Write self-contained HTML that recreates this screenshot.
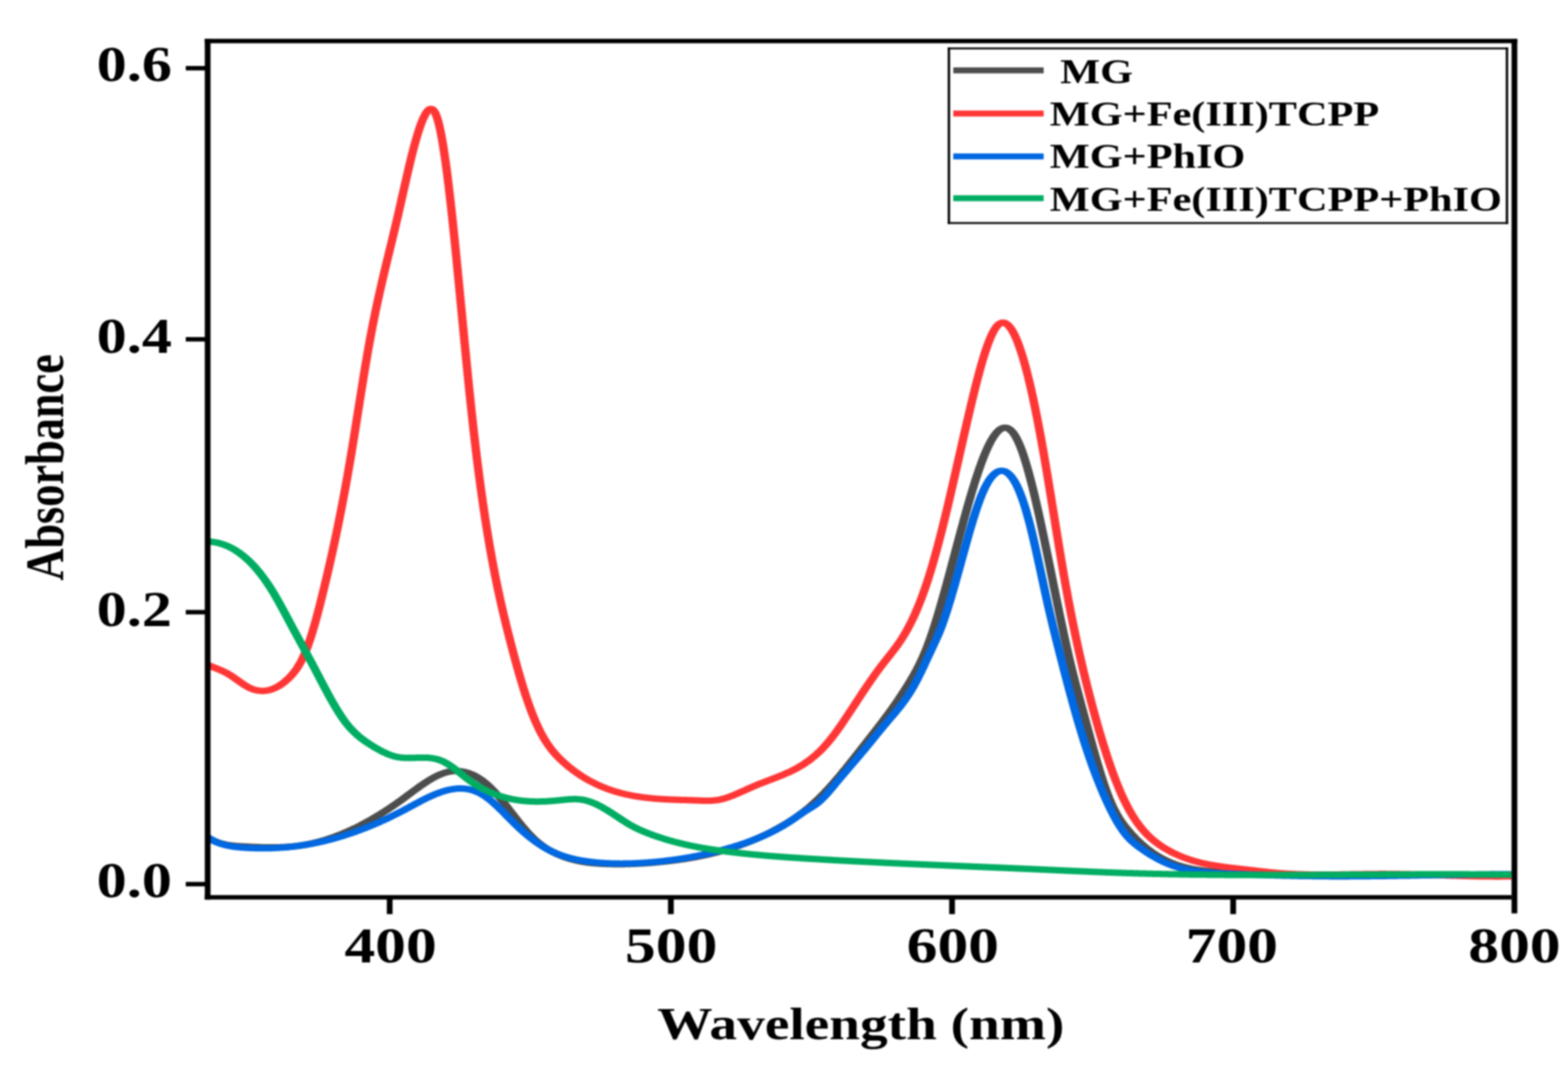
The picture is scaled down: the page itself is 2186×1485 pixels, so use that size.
<!DOCTYPE html>
<html lang="en"><head><meta charset="utf-8"><title>UV-Vis absorbance spectra</title>
<style>
html,body{margin:0;padding:0;background:#fff}
body{width:2186px;height:1485px;overflow:hidden}
svg{display:block;filter:blur(0.8px)}
text{font-family:"Liberation Serif","DejaVu Serif",serif;font-weight:bold;fill:#000}
.c{fill:none;stroke-width:9.0;stroke-linejoin:round;stroke-linecap:butt}
</style></head><body>
<svg width="2186" height="1485" viewBox="0 0 2186 1485">
<rect x="0" y="0" width="2186" height="1485" fill="#fff"/>
<g id="curves" transform="scale(1.3,1)">
<path class="c" stroke="#4d4d4d" d="M222.69,1167.7 L223.46,1168.3 L224.23,1168.9 L225.00,1169.5 L225.77,1170.0 L226.54,1170.6 L227.31,1171.1 L228.08,1171.6 L228.85,1172.1 L229.62,1172.5 L230.38,1173.0 L231.15,1173.4 L231.92,1173.8 L232.69,1174.2 L233.46,1174.5 L234.23,1174.9 L235.00,1175.2 L235.77,1175.6 L236.54,1175.9 L237.31,1176.1 L238.08,1176.4 L238.85,1176.7 L239.62,1176.9 L240.38,1177.2 L241.15,1177.4 L241.92,1177.6 L242.69,1177.8 L243.46,1178.0 L244.23,1178.2 L245.00,1178.4 L245.77,1178.5 L246.54,1178.7 L247.31,1178.8 L248.08,1178.9 L248.85,1179.1 L249.62,1179.2 L250.38,1179.3 L251.15,1179.4 L251.92,1179.5 L252.69,1179.6 L253.46,1179.7 L254.23,1179.7 L255.00,1179.8 L255.77,1179.9 L256.54,1179.9 L257.31,1180.0 L258.08,1180.1 L258.85,1180.1 L259.62,1180.2 L260.38,1180.2 L261.15,1180.3 L261.92,1180.3 L262.69,1180.4 L263.46,1180.4 L264.23,1180.5 L265.00,1180.5 L265.77,1180.6 L266.54,1180.6 L267.31,1180.7 L268.08,1180.7 L268.85,1180.8 L269.62,1180.8 L270.38,1180.9 L271.15,1180.9 L271.92,1181.0 L272.69,1181.0 L273.46,1181.0 L274.23,1181.1 L275.00,1181.1 L275.77,1181.2 L276.54,1181.2 L277.31,1181.2 L278.08,1181.3 L278.85,1181.3 L279.62,1181.3 L280.38,1181.4 L281.15,1181.4 L281.92,1181.4 L282.69,1181.4 L283.46,1181.5 L284.23,1181.5 L285.00,1181.5 L285.77,1181.5 L286.54,1181.5 L287.31,1181.5 L288.08,1181.6 L288.85,1181.6 L289.62,1181.6 L290.38,1181.6 L291.15,1181.6 L291.92,1181.6 L292.69,1181.6 L293.46,1181.6 L294.23,1181.5 L295.00,1181.5 L295.77,1181.5 L296.54,1181.5 L297.31,1181.5 L298.08,1181.5 L298.85,1181.4 L299.62,1181.4 L300.38,1181.4 L301.15,1181.3 L301.92,1181.3 L302.69,1181.3 L303.46,1181.2 L304.23,1181.2 L305.00,1181.1 L305.77,1181.1 L306.54,1181.0 L307.31,1180.9 L308.08,1180.9 L308.85,1180.8 L309.62,1180.7 L310.38,1180.6 L311.15,1180.6 L311.92,1180.5 L312.69,1180.4 L313.46,1180.3 L314.23,1180.2 L315.00,1180.1 L315.77,1180.0 L316.54,1179.9 L317.31,1179.8 L318.08,1179.7 L318.85,1179.5 L319.62,1179.4 L320.38,1179.3 L321.15,1179.1 L321.92,1179.0 L322.69,1178.9 L323.46,1178.7 L324.23,1178.5 L325.00,1178.4 L325.77,1178.2 L326.54,1178.1 L327.31,1177.9 L328.08,1177.7 L328.85,1177.5 L329.62,1177.3 L330.38,1177.1 L331.15,1176.9 L331.92,1176.7 L332.69,1176.5 L333.46,1176.3 L334.23,1176.1 L335.00,1175.9 L335.77,1175.6 L336.54,1175.4 L337.31,1175.2 L338.08,1174.9 L338.85,1174.7 L339.62,1174.4 L340.38,1174.2 L341.15,1173.9 L341.92,1173.7 L342.69,1173.4 L343.46,1173.1 L344.23,1172.8 L345.00,1172.6 L345.77,1172.3 L346.54,1172.0 L347.31,1171.7 L348.08,1171.4 L348.85,1171.1 L349.62,1170.8 L350.38,1170.5 L351.15,1170.1 L351.92,1169.8 L352.69,1169.5 L353.46,1169.2 L354.23,1168.8 L355.00,1168.5 L355.77,1168.1 L356.54,1167.8 L357.31,1167.4 L358.08,1167.1 L358.85,1166.7 L359.62,1166.4 L360.38,1166.0 L361.15,1165.6 L361.92,1165.2 L362.69,1164.8 L363.46,1164.5 L364.23,1164.1 L365.00,1163.7 L365.77,1163.3 L366.54,1162.9 L367.31,1162.5 L368.08,1162.0 L368.85,1161.6 L369.62,1161.2 L370.38,1160.8 L371.15,1160.3 L371.92,1159.9 L372.69,1159.5 L373.46,1159.0 L374.23,1158.6 L375.00,1158.1 L375.77,1157.7 L376.54,1157.2 L377.31,1156.8 L378.08,1156.3 L378.85,1155.8 L379.62,1155.3 L380.38,1154.9 L381.15,1154.4 L381.92,1153.9 L382.69,1153.4 L383.46,1152.9 L384.23,1152.4 L385.00,1151.9 L385.77,1151.4 L386.54,1150.9 L387.31,1150.4 L388.08,1149.8 L388.85,1149.3 L389.62,1148.8 L390.38,1148.3 L391.15,1147.7 L391.92,1147.2 L392.69,1146.6 L393.46,1146.1 L394.23,1145.5 L395.00,1145.0 L395.77,1144.4 L396.54,1143.9 L397.31,1143.3 L398.08,1142.7 L398.85,1142.2 L399.62,1141.6 L400.38,1141.0 L401.15,1140.4 L401.92,1139.8 L402.69,1139.2 L403.46,1138.6 L404.23,1138.0 L405.00,1137.4 L405.77,1136.8 L406.54,1136.2 L407.31,1135.6 L408.08,1135.0 L408.85,1134.4 L409.62,1133.7 L410.38,1133.1 L411.15,1132.5 L411.92,1131.8 L412.69,1131.2 L413.46,1130.6 L414.23,1129.9 L415.00,1129.3 L415.77,1128.6 L416.54,1128.0 L417.31,1127.3 L418.08,1126.6 L418.85,1126.0 L419.62,1125.3 L420.38,1124.6 L421.15,1123.9 L421.92,1123.3 L422.69,1122.6 L423.46,1121.9 L424.23,1121.2 L425.00,1120.5 L425.77,1119.8 L426.54,1119.1 L427.31,1118.4 L428.08,1117.7 L428.85,1117.0 L429.62,1116.3 L430.38,1115.5 L431.15,1114.8 L431.92,1114.1 L432.69,1113.4 L433.46,1112.6 L434.23,1111.9 L435.00,1111.2 L435.77,1110.4 L436.54,1109.7 L437.31,1108.9 L438.08,1108.2 L438.85,1107.4 L439.62,1106.7 L440.38,1106.0 L441.15,1105.2 L441.92,1104.5 L442.69,1103.7 L443.46,1103.0 L444.23,1102.2 L445.00,1101.5 L445.77,1100.8 L446.54,1100.0 L447.31,1099.3 L448.08,1098.6 L448.85,1097.9 L449.62,1097.1 L450.38,1096.4 L451.15,1095.7 L451.92,1095.0 L452.69,1094.3 L453.46,1093.6 L454.23,1093.0 L455.00,1092.3 L455.77,1091.6 L456.54,1091.0 L457.31,1090.3 L458.08,1089.7 L458.85,1089.0 L459.62,1088.4 L460.38,1087.8 L461.15,1087.2 L461.92,1086.6 L462.69,1086.0 L463.46,1085.4 L464.23,1084.9 L465.00,1084.3 L465.77,1083.8 L466.54,1083.3 L467.31,1082.7 L468.08,1082.2 L468.85,1081.8 L469.62,1081.3 L470.38,1080.8 L471.15,1080.4 L471.92,1080.0 L472.69,1079.5 L473.46,1079.2 L474.23,1078.8 L475.00,1078.4 L475.77,1078.1 L476.54,1077.7 L477.31,1077.4 L478.08,1077.1 L478.85,1076.9 L479.62,1076.6 L480.38,1076.4 L481.15,1076.2 L481.92,1076.0 L482.69,1075.8 L483.46,1075.6 L484.23,1075.5 L485.00,1075.4 L485.77,1075.3 L486.54,1075.2 L487.31,1075.1 L488.08,1075.1 L488.85,1075.1 L489.62,1075.1 L490.38,1075.1 L491.15,1075.1 L491.92,1075.2 L492.69,1075.3 L493.46,1075.4 L494.23,1075.5 L495.00,1075.6 L495.77,1075.8 L496.54,1076.0 L497.31,1076.2 L498.08,1076.4 L498.85,1076.6 L499.62,1076.9 L500.38,1077.2 L501.15,1077.5 L501.92,1077.8 L502.69,1078.1 L503.46,1078.5 L504.23,1078.9 L505.00,1079.3 L505.77,1079.7 L506.54,1080.1 L507.31,1080.6 L508.08,1081.1 L508.85,1081.6 L509.62,1082.1 L510.38,1082.6 L511.15,1083.2 L511.92,1083.8 L512.69,1084.4 L513.46,1085.0 L514.23,1085.7 L515.00,1086.3 L515.77,1087.0 L516.54,1087.7 L517.31,1088.5 L518.08,1089.2 L518.85,1090.0 L519.62,1090.8 L520.38,1091.6 L521.15,1092.4 L521.92,1093.3 L522.69,1094.2 L523.46,1095.1 L524.23,1096.0 L525.00,1096.9 L525.77,1097.9 L526.54,1098.9 L527.31,1099.9 L528.08,1100.9 L528.85,1102.0 L529.62,1103.0 L530.38,1104.1 L531.15,1105.2 L531.92,1106.3 L532.69,1107.5 L533.46,1108.6 L534.23,1109.8 L535.00,1110.9 L535.77,1112.1 L536.54,1113.3 L537.31,1114.5 L538.08,1115.8 L538.85,1117.0 L539.62,1118.2 L540.38,1119.5 L541.15,1120.7 L541.92,1122.0 L542.69,1123.3 L543.46,1124.5 L544.23,1125.8 L545.00,1127.1 L545.77,1128.4 L546.54,1129.7 L547.31,1131.0 L548.08,1132.3 L548.85,1133.6 L549.62,1134.9 L550.38,1136.1 L551.15,1137.4 L551.92,1138.7 L552.69,1140.0 L553.46,1141.3 L554.23,1142.5 L555.00,1143.8 L555.77,1145.1 L556.54,1146.3 L557.31,1147.6 L558.08,1148.8 L558.85,1150.0 L559.62,1151.3 L560.38,1152.5 L561.15,1153.7 L561.92,1154.8 L562.69,1156.0 L563.46,1157.2 L564.23,1158.3 L565.00,1159.4 L565.77,1160.5 L566.54,1161.6 L567.31,1162.7 L568.08,1163.7 L568.85,1164.8 L569.62,1165.8 L570.38,1166.8 L571.15,1167.8 L571.92,1168.7 L572.69,1169.7 L573.46,1170.6 L574.23,1171.5 L575.00,1172.4 L575.77,1173.2 L576.54,1174.1 L577.31,1174.9 L578.08,1175.7 L578.85,1176.5 L579.62,1177.2 L580.38,1178.0 L581.15,1178.7 L581.92,1179.5 L582.69,1180.2 L583.46,1180.9 L584.23,1181.5 L585.00,1182.2 L585.77,1182.8 L586.54,1183.5 L587.31,1184.1 L588.08,1184.7 L588.85,1185.3 L589.62,1185.8 L590.38,1186.4 L591.15,1186.9 L591.92,1187.5 L592.69,1188.0 L593.46,1188.5 L594.23,1189.0 L595.00,1189.5 L595.77,1190.0 L596.54,1190.4 L597.31,1190.9 L598.08,1191.3 L598.85,1191.8 L599.62,1192.2 L600.38,1192.6 L601.15,1193.0 L601.92,1193.4 L602.69,1193.8 L603.46,1194.2 L604.23,1194.6 L605.00,1194.9 L605.77,1195.3 L606.54,1195.6 L607.31,1196.0 L608.08,1196.3 L608.85,1196.6 L609.62,1196.9 L610.38,1197.2 L611.15,1197.5 L611.92,1197.8 L612.69,1198.1 L613.46,1198.4 L614.23,1198.6 L615.00,1198.9 L615.77,1199.1 L616.54,1199.4 L617.31,1199.6 L618.08,1199.9 L618.85,1200.1 L619.62,1200.3 L620.38,1200.5 L621.15,1200.7 L621.92,1200.9 L622.69,1201.1 L623.46,1201.3 L624.23,1201.5 L625.00,1201.6 L625.77,1201.8 L626.54,1202.0 L627.31,1202.1 L628.08,1202.3 L628.85,1202.4 L629.62,1202.6 L630.38,1202.7 L631.15,1202.8 L631.92,1202.9 L632.69,1203.1 L633.46,1203.2 L634.23,1203.3 L635.00,1203.4 L635.77,1203.5 L636.54,1203.6 L637.31,1203.7 L638.08,1203.8 L638.85,1203.8 L639.62,1203.9 L640.38,1204.0 L641.15,1204.1 L641.92,1204.1 L642.69,1204.2 L643.46,1204.3 L644.23,1204.3 L645.00,1204.4 L645.77,1204.4 L646.54,1204.5 L647.31,1204.5 L648.08,1204.6 L648.85,1204.6 L649.62,1204.6 L650.38,1204.7 L651.15,1204.7 L651.92,1204.7 L652.69,1204.8 L653.46,1204.8 L654.23,1204.8 L655.00,1204.8 L655.77,1204.8 L656.54,1204.9 L657.31,1204.9 L658.08,1204.9 L658.85,1204.9 L659.62,1204.9 L660.38,1204.9 L661.15,1204.9 L661.92,1204.9 L662.69,1204.9 L663.46,1204.9 L664.23,1204.9 L665.00,1204.9 L665.77,1204.9 L666.54,1204.9 L667.31,1204.9 L668.08,1204.9 L668.85,1204.9 L669.62,1204.9 L670.38,1204.8 L671.15,1204.8 L671.92,1204.8 L672.69,1204.8 L673.46,1204.8 L674.23,1204.7 L675.00,1204.7 L675.77,1204.7 L676.54,1204.6 L677.31,1204.6 L678.08,1204.6 L678.85,1204.5 L679.62,1204.5 L680.38,1204.5 L681.15,1204.4 L681.92,1204.4 L682.69,1204.3 L683.46,1204.3 L684.23,1204.2 L685.00,1204.2 L685.77,1204.1 L686.54,1204.1 L687.31,1204.0 L688.08,1204.0 L688.85,1203.9 L689.62,1203.9 L690.38,1203.8 L691.15,1203.7 L691.92,1203.7 L692.69,1203.6 L693.46,1203.5 L694.23,1203.5 L695.00,1203.4 L695.77,1203.3 L696.54,1203.3 L697.31,1203.2 L698.08,1203.1 L698.85,1203.0 L699.62,1202.9 L700.38,1202.9 L701.15,1202.8 L701.92,1202.7 L702.69,1202.6 L703.46,1202.5 L704.23,1202.4 L705.00,1202.3 L705.77,1202.2 L706.54,1202.1 L707.31,1202.0 L708.08,1201.9 L708.85,1201.8 L709.62,1201.7 L710.38,1201.6 L711.15,1201.5 L711.92,1201.4 L712.69,1201.3 L713.46,1201.2 L714.23,1201.1 L715.00,1201.0 L715.77,1200.9 L716.54,1200.7 L717.31,1200.6 L718.08,1200.5 L718.85,1200.4 L719.62,1200.3 L720.38,1200.1 L721.15,1200.0 L721.92,1199.9 L722.69,1199.8 L723.46,1199.6 L724.23,1199.5 L725.00,1199.4 L725.77,1199.2 L726.54,1199.1 L727.31,1199.0 L728.08,1198.8 L728.85,1198.7 L729.62,1198.5 L730.38,1198.4 L731.15,1198.2 L731.92,1198.1 L732.69,1197.9 L733.46,1197.8 L734.23,1197.6 L735.00,1197.5 L735.77,1197.3 L736.54,1197.2 L737.31,1197.0 L738.08,1196.8 L738.85,1196.7 L739.62,1196.5 L740.38,1196.3 L741.15,1196.1 L741.92,1196.0 L742.69,1195.8 L743.46,1195.6 L744.23,1195.4 L745.00,1195.3 L745.77,1195.1 L746.54,1194.9 L747.31,1194.7 L748.08,1194.5 L748.85,1194.3 L749.62,1194.1 L750.38,1193.9 L751.15,1193.7 L751.92,1193.5 L752.69,1193.3 L753.46,1193.1 L754.23,1192.9 L755.00,1192.7 L755.77,1192.5 L756.54,1192.2 L757.31,1192.0 L758.08,1191.8 L758.85,1191.6 L759.62,1191.3 L760.38,1191.1 L761.15,1190.9 L761.92,1190.6 L762.69,1190.4 L763.46,1190.2 L764.23,1189.9 L765.00,1189.7 L765.77,1189.4 L766.54,1189.2 L767.31,1188.9 L768.08,1188.7 L768.85,1188.4 L769.62,1188.2 L770.38,1187.9 L771.15,1187.6 L771.92,1187.4 L772.69,1187.1 L773.46,1186.8 L774.23,1186.5 L775.00,1186.3 L775.77,1186.0 L776.54,1185.7 L777.31,1185.4 L778.08,1185.1 L778.85,1184.8 L779.62,1184.5 L780.38,1184.2 L781.15,1183.9 L781.92,1183.6 L782.69,1183.3 L783.46,1183.0 L784.23,1182.7 L785.00,1182.4 L785.77,1182.0 L786.54,1181.7 L787.31,1181.4 L788.08,1181.1 L788.85,1180.7 L789.62,1180.4 L790.38,1180.1 L791.15,1179.7 L791.92,1179.4 L792.69,1179.0 L793.46,1178.7 L794.23,1178.3 L795.00,1177.9 L795.77,1177.6 L796.54,1177.2 L797.31,1176.9 L798.08,1176.5 L798.85,1176.1 L799.62,1175.7 L800.38,1175.3 L801.15,1175.0 L801.92,1174.6 L802.69,1174.2 L803.46,1173.8 L804.23,1173.4 L805.00,1173.0 L805.77,1172.6 L806.54,1172.2 L807.31,1171.8 L808.08,1171.3 L808.85,1170.9 L809.62,1170.5 L810.38,1170.1 L811.15,1169.6 L811.92,1169.2 L812.69,1168.8 L813.46,1168.3 L814.23,1167.9 L815.00,1167.4 L815.77,1167.0 L816.54,1166.5 L817.31,1166.1 L818.08,1165.6 L818.85,1165.1 L819.62,1164.7 L820.38,1164.2 L821.15,1163.7 L821.92,1163.2 L822.69,1162.7 L823.46,1162.2 L824.23,1161.7 L825.00,1161.2 L825.77,1160.7 L826.54,1160.2 L827.31,1159.7 L828.08,1159.2 L828.85,1158.7 L829.62,1158.2 L830.38,1157.6 L831.15,1157.1 L831.92,1156.6 L832.69,1156.0 L833.46,1155.5 L834.23,1154.9 L835.00,1154.4 L835.77,1153.8 L836.54,1153.3 L837.31,1152.7 L838.08,1152.1 L838.85,1151.6 L839.62,1151.0 L840.38,1150.4 L841.15,1149.8 L841.92,1149.2 L842.69,1148.6 L843.46,1148.0 L844.23,1147.4 L845.00,1146.8 L845.77,1146.2 L846.54,1145.5 L847.31,1144.9 L848.08,1144.3 L848.85,1143.6 L849.62,1143.0 L850.38,1142.3 L851.15,1141.6 L851.92,1141.0 L852.69,1140.3 L853.46,1139.6 L854.23,1138.9 L855.00,1138.2 L855.77,1137.5 L856.54,1136.8 L857.31,1136.1 L858.08,1135.3 L858.85,1134.6 L859.62,1133.9 L860.38,1133.1 L861.15,1132.4 L861.92,1131.6 L862.69,1130.8 L863.46,1130.0 L864.23,1129.2 L865.00,1128.4 L865.77,1127.6 L866.54,1126.8 L867.31,1126.0 L868.08,1125.1 L868.85,1124.3 L869.62,1123.4 L870.38,1122.6 L871.15,1121.7 L871.92,1120.8 L872.69,1119.9 L873.46,1119.0 L874.23,1118.1 L875.00,1117.2 L875.77,1116.3 L876.54,1115.3 L877.31,1114.4 L878.08,1113.4 L878.85,1112.4 L879.62,1111.5 L880.38,1110.5 L881.15,1109.5 L881.92,1108.4 L882.69,1107.4 L883.46,1106.4 L884.23,1105.4 L885.00,1104.3 L885.77,1103.3 L886.54,1102.2 L887.31,1101.1 L888.08,1100.0 L888.85,1098.9 L889.62,1097.9 L890.38,1096.7 L891.15,1095.6 L891.92,1094.5 L892.69,1093.4 L893.46,1092.3 L894.23,1091.1 L895.00,1090.0 L895.77,1088.8 L896.54,1087.7 L897.31,1086.5 L898.08,1085.3 L898.85,1084.1 L899.62,1083.0 L900.38,1081.8 L901.15,1080.6 L901.92,1079.4 L902.69,1078.2 L903.46,1077.0 L904.23,1075.8 L905.00,1074.5 L905.77,1073.3 L906.54,1072.1 L907.31,1070.9 L908.08,1069.6 L908.85,1068.4 L909.62,1067.2 L910.38,1065.9 L911.15,1064.7 L911.92,1063.4 L912.69,1062.2 L913.46,1060.9 L914.23,1059.7 L915.00,1058.4 L915.77,1057.1 L916.54,1055.9 L917.31,1054.6 L918.08,1053.3 L918.85,1052.1 L919.62,1050.8 L920.38,1049.5 L921.15,1048.2 L921.92,1047.0 L922.69,1045.7 L923.46,1044.4 L924.23,1043.2 L925.00,1041.9 L925.77,1040.6 L926.54,1039.3 L927.31,1038.1 L928.08,1036.8 L928.85,1035.5 L929.62,1034.2 L930.38,1033.0 L931.15,1031.7 L931.92,1030.4 L932.69,1029.1 L933.46,1027.9 L934.23,1026.6 L935.00,1025.3 L935.77,1024.0 L936.54,1022.8 L937.31,1021.5 L938.08,1020.2 L938.85,1018.9 L939.62,1017.6 L940.38,1016.3 L941.15,1015.0 L941.92,1013.7 L942.69,1012.4 L943.46,1011.1 L944.23,1009.8 L945.00,1008.5 L945.77,1007.2 L946.54,1005.9 L947.31,1004.6 L948.08,1003.2 L948.85,1001.9 L949.62,1000.6 L950.38,999.2 L951.15,997.9 L951.92,996.5 L952.69,995.2 L953.46,993.8 L954.23,992.4 L955.00,991.1 L955.77,989.7 L956.54,988.3 L957.31,986.9 L958.08,985.5 L958.85,984.0 L959.62,982.6 L960.38,981.2 L961.15,979.7 L961.92,978.3 L962.69,976.8 L963.46,975.4 L964.23,973.9 L965.00,972.4 L965.77,970.9 L966.54,969.4 L967.31,967.9 L968.08,966.4 L968.85,964.8 L969.62,963.3 L970.38,961.7 L971.15,960.1 L971.92,958.6 L972.69,957.0 L973.46,955.4 L974.23,953.7 L975.00,952.1 L975.77,950.5 L976.54,948.8 L977.31,947.1 L978.08,945.4 L978.85,943.7 L979.62,942.0 L980.38,940.2 L981.15,938.4 L981.92,936.6 L982.69,934.7 L983.46,932.9 L984.23,930.9 L985.00,929.0 L985.77,927.0 L986.54,925.0 L987.31,922.9 L988.08,920.7 L988.85,918.6 L989.62,916.4 L990.38,914.1 L991.15,911.8 L991.92,909.4 L992.69,907.0 L993.46,904.5 L994.23,902.0 L995.00,899.4 L995.77,896.7 L996.54,894.0 L997.31,891.2 L998.08,888.4 L998.85,885.5 L999.62,882.5 L1000.38,879.6 L1001.15,876.5 L1001.92,873.4 L1002.69,870.3 L1003.46,867.1 L1004.23,863.9 L1005.00,860.7 L1005.77,857.4 L1006.54,854.0 L1007.31,850.7 L1008.08,847.3 L1008.85,843.8 L1009.62,840.4 L1010.38,836.9 L1011.15,833.3 L1011.92,829.8 L1012.69,826.2 L1013.46,822.6 L1014.23,819.0 L1015.00,815.4 L1015.77,811.7 L1016.54,808.0 L1017.31,804.3 L1018.08,800.6 L1018.85,796.9 L1019.62,793.2 L1020.38,789.4 L1021.15,785.7 L1021.92,781.9 L1022.69,778.2 L1023.46,774.4 L1024.23,770.7 L1025.00,766.9 L1025.77,763.1 L1026.54,759.4 L1027.31,755.6 L1028.08,751.9 L1028.85,748.1 L1029.62,744.4 L1030.38,740.7 L1031.15,737.0 L1031.92,733.3 L1032.69,729.6 L1033.46,725.9 L1034.23,722.3 L1035.00,718.7 L1035.77,715.1 L1036.54,711.5 L1037.31,708.0 L1038.08,704.4 L1038.85,701.0 L1039.62,697.5 L1040.38,694.1 L1041.15,690.7 L1041.92,687.3 L1042.69,684.0 L1043.46,680.7 L1044.23,677.4 L1045.00,674.2 L1045.77,671.0 L1046.54,667.9 L1047.31,664.8 L1048.08,661.8 L1048.85,658.8 L1049.62,655.9 L1050.38,653.0 L1051.15,650.2 L1051.92,647.4 L1052.69,644.7 L1053.46,642.0 L1054.23,639.4 L1055.00,636.8 L1055.77,634.4 L1056.54,631.9 L1057.31,629.6 L1058.08,627.3 L1058.85,625.1 L1059.62,622.9 L1060.38,620.9 L1061.15,618.9 L1061.92,616.9 L1062.69,615.1 L1063.46,613.3 L1064.23,611.6 L1065.00,610.0 L1065.77,608.5 L1066.54,607.0 L1067.31,605.7 L1068.08,604.4 L1068.85,603.2 L1069.62,602.1 L1070.38,601.1 L1071.15,600.2 L1071.92,599.4 L1072.69,598.7 L1073.46,598.0 L1074.23,597.5 L1075.00,597.1 L1075.77,596.8 L1076.54,596.5 L1077.31,596.4 L1078.08,596.4 L1078.85,596.5 L1079.62,596.7 L1080.38,597.0 L1081.15,597.4 L1081.92,598.0 L1082.69,598.6 L1083.46,599.4 L1084.23,600.3 L1085.00,601.3 L1085.77,602.4 L1086.54,603.6 L1087.31,605.0 L1088.08,606.5 L1088.85,608.1 L1089.62,609.8 L1090.38,611.7 L1091.15,613.7 L1091.92,615.8 L1092.69,618.0 L1093.46,620.3 L1094.23,622.8 L1095.00,625.4 L1095.77,628.1 L1096.54,630.8 L1097.31,633.7 L1098.08,636.7 L1098.85,639.8 L1099.62,643.0 L1100.38,646.3 L1101.15,649.7 L1101.92,653.1 L1102.69,656.7 L1103.46,660.3 L1104.23,664.0 L1105.00,667.8 L1105.77,671.6 L1106.54,675.5 L1107.31,679.5 L1108.08,683.6 L1108.85,687.7 L1109.62,691.9 L1110.38,696.1 L1111.15,700.4 L1111.92,704.7 L1112.69,709.1 L1113.46,713.6 L1114.23,718.1 L1115.00,722.6 L1115.77,727.2 L1116.54,731.8 L1117.31,736.5 L1118.08,741.2 L1118.85,745.9 L1119.62,750.6 L1120.38,755.4 L1121.15,760.2 L1121.92,765.0 L1122.69,769.9 L1123.46,774.8 L1124.23,779.6 L1125.00,784.5 L1125.77,789.4 L1126.54,794.4 L1127.31,799.3 L1128.08,804.2 L1128.85,809.1 L1129.62,814.1 L1130.38,819.0 L1131.15,823.9 L1131.92,828.8 L1132.69,833.7 L1133.46,838.6 L1134.23,843.4 L1135.00,848.3 L1135.77,853.1 L1136.54,857.9 L1137.31,862.7 L1138.08,867.4 L1138.85,872.1 L1139.62,876.8 L1140.38,881.5 L1141.15,886.1 L1141.92,890.6 L1142.69,895.1 L1143.46,899.6 L1144.23,904.0 L1145.00,908.4 L1145.77,912.7 L1146.54,917.0 L1147.31,921.2 L1148.08,925.4 L1148.85,929.5 L1149.62,933.5 L1150.38,937.5 L1151.15,941.5 L1151.92,945.4 L1152.69,949.3 L1153.46,953.1 L1154.23,956.9 L1155.00,960.7 L1155.77,964.5 L1156.54,968.2 L1157.31,972.0 L1158.08,975.7 L1158.85,979.4 L1159.62,983.1 L1160.38,986.8 L1161.15,990.4 L1161.92,994.1 L1162.69,997.8 L1163.46,1001.5 L1164.23,1005.1 L1165.00,1008.8 L1165.77,1012.4 L1166.54,1016.1 L1167.31,1019.7 L1168.08,1023.4 L1168.85,1027.0 L1169.62,1030.6 L1170.38,1034.2 L1171.15,1037.8 L1171.92,1041.4 L1172.69,1044.9 L1173.46,1048.5 L1174.23,1052.0 L1175.00,1055.5 L1175.77,1058.9 L1176.54,1062.4 L1177.31,1065.7 L1178.08,1069.1 L1178.85,1072.4 L1179.62,1075.7 L1180.38,1078.9 L1181.15,1082.1 L1181.92,1085.2 L1182.69,1088.3 L1183.46,1091.4 L1184.23,1094.3 L1185.00,1097.2 L1185.77,1100.1 L1186.54,1102.9 L1187.31,1105.6 L1188.08,1108.3 L1188.85,1110.8 L1189.62,1113.4 L1190.38,1115.8 L1191.15,1118.1 L1191.92,1120.4 L1192.69,1122.6 L1193.46,1124.8 L1194.23,1126.8 L1195.00,1128.8 L1195.77,1130.8 L1196.54,1132.6 L1197.31,1134.4 L1198.08,1136.2 L1198.85,1137.9 L1199.62,1139.6 L1200.38,1141.2 L1201.15,1142.7 L1201.92,1144.2 L1202.69,1145.7 L1203.46,1147.1 L1204.23,1148.5 L1205.00,1149.9 L1205.77,1151.2 L1206.54,1152.5 L1207.31,1153.7 L1208.08,1155.0 L1208.85,1156.2 L1209.62,1157.4 L1210.38,1158.5 L1211.15,1159.7 L1211.92,1160.8 L1212.69,1162.0 L1213.46,1163.1 L1214.23,1164.2 L1215.00,1165.2 L1215.77,1166.3 L1216.54,1167.3 L1217.31,1168.4 L1218.08,1169.4 L1218.85,1170.4 L1219.62,1171.4 L1220.38,1172.3 L1221.15,1173.3 L1221.92,1174.2 L1222.69,1175.1 L1223.46,1176.1 L1224.23,1176.9 L1225.00,1177.8 L1225.77,1178.7 L1226.54,1179.6 L1227.31,1180.4 L1228.08,1181.2 L1228.85,1182.0 L1229.62,1182.8 L1230.38,1183.6 L1231.15,1184.4 L1231.92,1185.2 L1232.69,1185.9 L1233.46,1186.6 L1234.23,1187.4 L1235.00,1188.1 L1235.77,1188.8 L1236.54,1189.5 L1237.31,1190.1 L1238.08,1190.8 L1238.85,1191.4 L1239.62,1192.1 L1240.38,1192.7 L1241.15,1193.3 L1241.92,1193.9 L1242.69,1194.5 L1243.46,1195.1 L1244.23,1195.7 L1245.00,1196.2 L1245.77,1196.8 L1246.54,1197.3 L1247.31,1197.8 L1248.08,1198.3 L1248.85,1198.8 L1249.62,1199.3 L1250.38,1199.8 L1251.15,1200.3 L1251.92,1200.8 L1252.69,1201.2 L1253.46,1201.7 L1254.23,1202.1 L1255.00,1202.5 L1255.77,1202.9 L1256.54,1203.3 L1257.31,1203.7 L1258.08,1204.1 L1258.85,1204.5 L1259.62,1204.9 L1260.38,1205.2 L1261.15,1205.6 L1261.92,1205.9 L1262.69,1206.3 L1263.46,1206.6 L1264.23,1206.9 L1265.00,1207.2 L1265.77,1207.5 L1266.54,1207.8 L1267.31,1208.1 L1268.08,1208.4 L1268.85,1208.7 L1269.62,1209.0 L1270.38,1209.2 L1271.15,1209.5 L1271.92,1209.7 L1272.69,1210.0 L1273.46,1210.2 L1274.23,1210.4 L1275.00,1210.7 L1275.77,1210.9 L1276.54,1211.1 L1277.31,1211.3 L1278.08,1211.5 L1278.85,1211.7 L1279.62,1211.9 L1280.38,1212.0 L1281.15,1212.2 L1281.92,1212.4 L1282.69,1212.5 L1283.46,1212.7 L1284.23,1212.9 L1285.00,1213.0 L1285.77,1213.2 L1286.54,1213.3 L1287.31,1213.4 L1288.08,1213.6 L1288.85,1213.7 L1289.62,1213.8 L1290.38,1213.9 L1291.15,1214.0 L1291.92,1214.2 L1292.69,1214.3 L1293.46,1214.4 L1294.23,1214.5 L1295.00,1214.6 L1295.77,1214.7 L1296.54,1214.8 L1297.31,1214.8 L1298.08,1214.9 L1298.85,1215.0 L1299.62,1215.1 L1300.38,1215.2 L1301.15,1215.3 L1301.92,1215.3 L1302.69,1215.4 L1303.46,1215.5 L1304.23,1215.5 L1305.00,1215.6 L1305.77,1215.7 L1306.54,1215.7 L1307.31,1215.8 L1308.08,1215.9 L1308.85,1215.9 L1309.62,1216.0 L1310.38,1216.0 L1311.15,1216.1 L1311.92,1216.1 L1312.69,1216.2 L1313.46,1216.3 L1314.23,1216.3 L1315.00,1216.4 L1315.77,1216.4 L1316.54,1216.5 L1317.31,1216.5 L1318.08,1216.6 L1318.85,1216.6 L1319.62,1216.7 L1320.38,1216.7 L1321.15,1216.8 L1321.92,1216.8 L1322.69,1216.9 L1323.46,1216.9 L1324.23,1217.0 L1325.00,1217.0 L1325.77,1217.1 L1326.54,1217.1 L1327.31,1217.2 L1328.08,1217.2 L1328.85,1217.3 L1329.62,1217.3 L1330.38,1217.4 L1331.15,1217.4 L1331.92,1217.4 L1332.69,1217.5 L1333.46,1217.5 L1334.23,1217.6 L1335.00,1217.6 L1335.77,1217.7 L1336.54,1217.7 L1337.31,1217.7 L1338.08,1217.8 L1338.85,1217.8 L1339.62,1217.9 L1340.38,1217.9 L1341.15,1218.0 L1341.92,1218.0 L1342.69,1218.0 L1343.46,1218.1 L1344.23,1218.1 L1345.00,1218.1 L1345.77,1218.2 L1346.54,1218.2 L1347.31,1218.3 L1348.08,1218.3 L1348.85,1218.3 L1349.62,1218.4 L1350.38,1218.4 L1351.15,1218.4 L1351.92,1218.5 L1352.69,1218.5 L1353.46,1218.5 L1354.23,1218.6 L1355.00,1218.6 L1355.77,1218.6 L1356.54,1218.7 L1357.31,1218.7 L1358.08,1218.7 L1358.85,1218.7 L1359.62,1218.8 L1360.38,1218.8 L1361.15,1218.8 L1361.92,1218.9 L1362.69,1218.9 L1363.46,1218.9 L1364.23,1219.0 L1365.00,1219.0 L1365.77,1219.0 L1366.54,1219.0 L1367.31,1219.1 L1368.08,1219.1 L1368.85,1219.1 L1369.62,1219.1 L1370.38,1219.2 L1371.15,1219.2 L1371.92,1219.2 L1372.69,1219.2 L1373.46,1219.3 L1374.23,1219.3 L1375.00,1219.3 L1375.77,1219.3 L1376.54,1219.4 L1377.31,1219.4 L1378.08,1219.4 L1378.85,1219.4 L1379.62,1219.4 L1380.38,1219.5 L1381.15,1219.5 L1381.92,1219.5 L1382.69,1219.5 L1383.46,1219.5 L1384.23,1219.6 L1385.00,1219.6 L1385.77,1219.6 L1386.54,1219.6 L1387.31,1219.6 L1388.08,1219.7 L1388.85,1219.7 L1389.62,1219.7 L1390.38,1219.7 L1391.15,1219.7 L1391.92,1219.7 L1392.69,1219.8 L1393.46,1219.8 L1394.23,1219.8 L1395.00,1219.8 L1395.77,1219.8 L1396.54,1219.8 L1397.31,1219.8 L1398.08,1219.9 L1398.85,1219.9 L1399.62,1219.9 L1400.38,1219.9 L1401.15,1219.9 L1401.92,1219.9 L1402.69,1219.9 L1403.46,1220.0 L1404.23,1220.0 L1405.00,1220.0 L1405.77,1220.0 L1406.54,1220.0 L1407.31,1220.0 L1408.08,1220.0 L1408.85,1220.0 L1409.62,1220.0 L1410.38,1220.1 L1411.15,1220.1 L1411.92,1220.1 L1412.69,1220.1 L1413.46,1220.1 L1414.23,1220.1 L1415.00,1220.1 L1415.77,1220.1 L1416.54,1220.1 L1417.31,1220.1 L1418.08,1220.1 L1418.85,1220.1 L1419.62,1220.2 L1420.38,1220.2 L1421.15,1220.2 L1421.92,1220.2 L1422.69,1220.2 L1423.46,1220.2 L1424.23,1220.2 L1425.00,1220.2 L1425.77,1220.2 L1426.54,1220.2 L1427.31,1220.2 L1428.08,1220.2 L1428.85,1220.2 L1429.62,1220.2 L1430.38,1220.2 L1431.15,1220.2 L1431.92,1220.2 L1432.69,1220.2 L1433.46,1220.3 L1434.23,1220.3 L1435.00,1220.3 L1435.77,1220.3 L1436.54,1220.3 L1437.31,1220.3 L1438.08,1220.3 L1438.85,1220.3 L1439.62,1220.3 L1440.38,1220.3 L1441.15,1220.3 L1441.92,1220.3 L1442.69,1220.3 L1443.46,1220.3 L1444.23,1220.3 L1445.00,1220.3 L1445.77,1220.3 L1446.54,1220.3 L1447.31,1220.3 L1448.08,1220.3 L1448.85,1220.3 L1449.62,1220.3 L1450.38,1220.3 L1451.15,1220.3 L1451.92,1220.3 L1452.69,1220.3 L1453.46,1220.3 L1454.23,1220.3 L1455.00,1220.3 L1455.77,1220.3 L1456.54,1220.3 L1457.31,1220.3 L1458.08,1220.3 L1458.85,1220.3 L1459.62,1220.3 L1460.38,1220.3 L1461.15,1220.3 L1461.92,1220.3 L1462.69,1220.3 L1463.46,1220.3 L1464.23,1220.3 L1465.00,1220.3 L1465.77,1220.3 L1466.54,1220.3 L1467.31,1220.3 L1468.08,1220.3 L1468.85,1220.2 L1469.62,1220.2 L1470.38,1220.2 L1471.15,1220.2 L1471.92,1220.2 L1472.69,1220.2 L1473.46,1220.2 L1474.23,1220.2 L1475.00,1220.2 L1475.77,1220.2 L1476.54,1220.2 L1477.31,1220.2 L1478.08,1220.2 L1478.85,1220.2 L1479.62,1220.2 L1480.38,1220.2 L1481.15,1220.2 L1481.92,1220.2 L1482.69,1220.2 L1483.46,1220.2 L1484.23,1220.2 L1485.00,1220.2 L1485.77,1220.2 L1486.54,1220.2 L1487.31,1220.1 L1488.08,1220.1 L1488.85,1220.1 L1489.62,1220.1 L1490.38,1220.1 L1491.15,1220.1 L1491.92,1220.1 L1492.69,1220.1 L1493.46,1220.1 L1494.23,1220.1 L1495.00,1220.1 L1495.77,1220.1 L1496.54,1220.1 L1497.31,1220.1 L1498.08,1220.1 L1498.85,1220.1 L1499.62,1220.1 L1500.38,1220.1 L1501.15,1220.1 L1501.92,1220.0 L1502.69,1220.0 L1503.46,1220.0 L1504.23,1220.0 L1505.00,1220.0 L1505.77,1220.0 L1506.54,1220.0 L1507.31,1220.0 L1508.08,1220.0 L1508.85,1220.0 L1509.62,1220.0 L1510.38,1220.0 L1511.15,1220.0 L1511.92,1220.0 L1512.69,1220.0 L1513.46,1220.0 L1514.23,1220.0 L1515.00,1219.9 L1515.77,1219.9 L1516.54,1219.9 L1517.31,1219.9 L1518.08,1219.9 L1518.85,1219.9 L1519.62,1219.9 L1520.38,1219.9 L1521.15,1219.9 L1521.92,1219.9 L1522.69,1219.9 L1523.46,1219.9 L1524.23,1219.9 L1525.00,1219.9 L1525.77,1219.9 L1526.54,1219.9 L1527.31,1219.9 L1528.08,1219.9 L1528.85,1219.8 L1529.62,1219.8 L1530.38,1219.8 L1531.15,1219.8 L1531.92,1219.8 L1532.69,1219.8 L1533.46,1219.8 L1534.23,1219.8 L1535.00,1219.8 L1535.77,1219.8 L1536.54,1219.8 L1537.31,1219.8 L1538.08,1219.8 L1538.85,1219.8 L1539.62,1219.8 L1540.38,1219.8 L1541.15,1219.8 L1541.92,1219.8 L1542.69,1219.8 L1543.46,1219.8 L1544.23,1219.8 L1545.00,1219.7 L1545.77,1219.7 L1546.54,1219.7 L1547.31,1219.7 L1548.08,1219.7 L1548.85,1219.7 L1549.62,1219.7 L1550.38,1219.7 L1551.15,1219.7 L1551.92,1219.7 L1552.69,1219.7 L1553.46,1219.7 L1554.23,1219.7 L1555.00,1219.7 L1555.77,1219.7 L1556.54,1219.7 L1557.31,1219.7 L1558.08,1219.7 L1558.85,1219.7 L1559.62,1219.7 L1560.38,1219.7 L1561.15,1219.7 L1561.92,1219.7 L1562.69,1219.7 L1563.46,1219.7 L1564.23,1219.7 L1565.00,1219.7 L1565.77,1219.7 L1566.54,1219.7 L1567.31,1219.7 L1568.08,1219.7 L1568.85,1219.7 L1569.62,1219.7 L1570.38,1219.7 L1571.15,1219.7 L1571.92,1219.7 L1572.69,1219.7 L1573.46,1219.7 L1574.23,1219.7 L1575.00,1219.7 L1575.77,1219.7 L1576.54,1219.7 L1577.31,1219.7 L1578.08,1219.7 L1578.85,1219.7 L1579.62,1219.7 L1580.38,1219.7 L1581.15,1219.7 L1581.92,1219.7 L1582.69,1219.7 L1583.46,1219.7 L1584.23,1219.7 L1585.00,1219.7 L1585.77,1219.7 L1586.54,1219.7 L1587.31,1219.7 L1588.08,1219.7 L1588.85,1219.7 L1589.62,1219.7 L1590.38,1219.7 L1591.15,1219.7 L1591.92,1219.7 L1592.69,1219.7 L1593.46,1219.7 L1594.23,1219.7 L1595.00,1219.7 L1595.77,1219.8 L1596.54,1219.8 L1597.31,1219.8 L1598.08,1219.8 L1598.85,1219.8 L1599.62,1219.8 L1600.38,1219.8 L1601.15,1219.8 L1601.92,1219.8 L1602.69,1219.8 L1603.46,1219.8 L1604.23,1219.8 L1605.00,1219.8 L1605.77,1219.8 L1606.54,1219.9 L1607.31,1219.9 L1608.08,1219.9 L1608.85,1219.9 L1609.62,1219.9 L1610.38,1219.9 L1611.15,1219.9 L1611.92,1219.9 L1612.69,1219.9 L1613.46,1219.9 L1614.23,1220.0 L1615.00,1220.0 L1615.77,1220.0 L1616.54,1220.0 L1617.31,1220.0 L1618.08,1220.0 L1618.85,1220.0 L1619.62,1220.0 L1620.38,1220.0 L1620.77,1220.1"/>
<path class="c" stroke="#ff3636" d="M222.69,927.1 L223.46,927.5 L224.23,927.9 L225.00,928.4 L225.77,928.8 L226.54,929.2 L227.31,929.6 L228.08,930.0 L228.85,930.4 L229.62,930.8 L230.38,931.1 L231.15,931.5 L231.92,931.9 L232.69,932.4 L233.46,932.8 L234.23,933.2 L235.00,933.6 L235.77,934.0 L236.54,934.4 L237.31,934.9 L238.08,935.3 L238.85,935.8 L239.62,936.3 L240.38,936.8 L241.15,937.3 L241.92,937.8 L242.69,938.3 L243.46,938.8 L244.23,939.4 L245.00,940.0 L245.77,940.6 L246.54,941.2 L247.31,941.8 L248.08,942.4 L248.85,943.1 L249.62,943.8 L250.38,944.5 L251.15,945.2 L251.92,945.9 L252.69,946.6 L253.46,947.3 L254.23,948.0 L255.00,948.7 L255.77,949.4 L256.54,950.1 L257.31,950.8 L258.08,951.5 L258.85,952.2 L259.62,952.9 L260.38,953.6 L261.15,954.3 L261.92,954.9 L262.69,955.5 L263.46,956.2 L264.23,956.8 L265.00,957.3 L265.77,957.9 L266.54,958.4 L267.31,958.9 L268.08,959.4 L268.85,959.8 L269.62,960.3 L270.38,960.7 L271.15,961.0 L271.92,961.4 L272.69,961.7 L273.46,962.0 L274.23,962.2 L275.00,962.5 L275.77,962.7 L276.54,962.9 L277.31,963.0 L278.08,963.1 L278.85,963.2 L279.62,963.3 L280.38,963.4 L281.15,963.4 L281.92,963.4 L282.69,963.4 L283.46,963.3 L284.23,963.2 L285.00,963.1 L285.77,963.0 L286.54,962.8 L287.31,962.6 L288.08,962.4 L288.85,962.2 L289.62,961.9 L290.38,961.6 L291.15,961.3 L291.92,960.9 L292.69,960.5 L293.46,960.1 L294.23,959.7 L295.00,959.3 L295.77,958.8 L296.54,958.3 L297.31,957.7 L298.08,957.2 L298.85,956.6 L299.62,956.0 L300.38,955.4 L301.15,954.7 L301.92,954.0 L302.69,953.3 L303.46,952.5 L304.23,951.8 L305.00,951.0 L305.77,950.2 L306.54,949.3 L307.31,948.4 L308.08,947.5 L308.85,946.6 L309.62,945.7 L310.38,944.7 L311.15,943.7 L311.92,942.6 L312.69,941.5 L313.46,940.4 L314.23,939.2 L315.00,938.0 L315.77,936.7 L316.54,935.4 L317.31,934.0 L318.08,932.6 L318.85,931.1 L319.62,929.6 L320.38,927.9 L321.15,926.2 L321.92,924.5 L322.69,922.6 L323.46,920.7 L324.23,918.7 L325.00,916.7 L325.77,914.5 L326.54,912.3 L327.31,909.9 L328.08,907.5 L328.85,905.0 L329.62,902.4 L330.38,899.7 L331.15,896.9 L331.92,893.9 L332.69,891.0 L333.46,887.9 L334.23,884.7 L335.00,881.5 L335.77,878.1 L336.54,874.7 L337.31,871.3 L338.08,867.7 L338.85,864.1 L339.62,860.5 L340.38,856.8 L341.15,853.0 L341.92,849.2 L342.69,845.3 L343.46,841.3 L344.23,837.4 L345.00,833.4 L345.77,829.3 L346.54,825.2 L347.31,821.1 L348.08,817.0 L348.85,812.8 L349.62,808.6 L350.38,804.4 L351.15,800.2 L351.92,795.9 L352.69,791.5 L353.46,787.2 L354.23,782.8 L355.00,778.4 L355.77,773.9 L356.54,769.4 L357.31,764.8 L358.08,760.2 L358.85,755.6 L359.62,750.9 L360.38,746.2 L361.15,741.4 L361.92,736.6 L362.69,731.7 L363.46,726.8 L364.23,721.8 L365.00,716.8 L365.77,711.7 L366.54,706.5 L367.31,701.3 L368.08,696.1 L368.85,690.8 L369.62,685.4 L370.38,680.0 L371.15,674.5 L371.92,668.9 L372.69,663.3 L373.46,657.6 L374.23,651.8 L375.00,646.0 L375.77,640.1 L376.54,634.1 L377.31,628.1 L378.08,622.0 L378.85,615.8 L379.62,609.6 L380.38,603.4 L381.15,597.2 L381.92,590.9 L382.69,584.6 L383.46,578.2 L384.23,571.9 L385.00,565.6 L385.77,559.3 L386.54,553.0 L387.31,546.7 L388.08,540.5 L388.85,534.2 L389.62,528.1 L390.38,521.9 L391.15,515.9 L391.92,509.8 L392.69,503.9 L393.46,498.0 L394.23,492.2 L395.00,486.5 L395.77,480.9 L396.54,475.4 L397.31,469.9 L398.08,464.6 L398.85,459.4 L399.62,454.2 L400.38,449.2 L401.15,444.2 L401.92,439.3 L402.69,434.4 L403.46,429.7 L404.23,425.0 L405.00,420.3 L405.77,415.7 L406.54,411.2 L407.31,406.8 L408.08,402.3 L408.85,398.0 L409.62,393.6 L410.38,389.3 L411.15,385.1 L411.92,380.8 L412.69,376.6 L413.46,372.5 L414.23,368.3 L415.00,364.2 L415.77,360.0 L416.54,355.9 L417.31,351.8 L418.08,347.7 L418.85,343.6 L419.62,339.5 L420.38,335.4 L421.15,331.2 L421.92,327.1 L422.69,322.9 L423.46,318.7 L424.23,314.5 L425.00,310.3 L425.77,306.0 L426.54,301.7 L427.31,297.4 L428.08,293.0 L428.85,288.6 L429.62,284.2 L430.38,279.8 L431.15,275.3 L431.92,270.9 L432.69,266.5 L433.46,262.0 L434.23,257.6 L435.00,253.2 L435.77,248.8 L436.54,244.5 L437.31,240.2 L438.08,235.9 L438.85,231.6 L439.62,227.4 L440.38,223.3 L441.15,219.2 L441.92,215.2 L442.69,211.3 L443.46,207.4 L444.23,203.7 L445.00,200.0 L445.77,196.4 L446.54,192.9 L447.31,189.4 L448.08,186.2 L448.85,183.0 L449.62,179.9 L450.38,177.0 L451.15,174.1 L451.92,171.5 L452.69,168.9 L453.46,166.5 L454.23,164.3 L455.00,162.2 L455.77,160.3 L456.54,158.5 L457.31,156.9 L458.08,155.5 L458.85,154.3 L459.62,153.3 L460.38,152.6 L461.15,152.1 L461.92,151.9 L462.69,151.9 L463.46,152.3 L464.23,153.0 L465.00,154.0 L465.77,155.3 L466.54,157.1 L467.31,159.2 L468.08,161.7 L468.85,164.6 L469.62,167.9 L470.38,171.6 L471.15,175.6 L471.92,180.1 L472.69,184.9 L473.46,190.0 L474.23,195.5 L475.00,201.4 L475.77,207.6 L476.54,214.1 L477.31,220.9 L478.08,228.0 L478.85,235.4 L479.62,243.0 L480.38,251.0 L481.15,259.2 L481.92,267.6 L482.69,276.2 L483.46,285.1 L484.23,294.2 L485.00,303.4 L485.77,312.8 L486.54,322.4 L487.31,332.1 L488.08,341.9 L488.85,351.9 L489.62,361.9 L490.38,372.1 L491.15,382.3 L491.92,392.6 L492.69,402.9 L493.46,413.3 L494.23,423.7 L495.00,434.1 L495.77,444.5 L496.54,454.9 L497.31,465.2 L498.08,475.6 L498.85,485.8 L499.62,496.1 L500.38,506.2 L501.15,516.3 L501.92,526.3 L502.69,536.1 L503.46,545.9 L504.23,555.6 L505.00,565.1 L505.77,574.5 L506.54,583.7 L507.31,592.8 L508.08,601.8 L508.85,610.5 L509.62,619.1 L510.38,627.5 L511.15,635.8 L511.92,643.9 L512.69,651.8 L513.46,659.6 L514.23,667.3 L515.00,674.8 L515.77,682.1 L516.54,689.4 L517.31,696.4 L518.08,703.4 L518.85,710.2 L519.62,716.9 L520.38,723.4 L521.15,729.9 L521.92,736.2 L522.69,742.4 L523.46,748.5 L524.23,754.4 L525.00,760.3 L525.77,766.0 L526.54,771.7 L527.31,777.2 L528.08,782.6 L528.85,788.0 L529.62,793.2 L530.38,798.4 L531.15,803.5 L531.92,808.4 L532.69,813.3 L533.46,818.2 L534.23,822.9 L535.00,827.6 L535.77,832.2 L536.54,836.7 L537.31,841.2 L538.08,845.6 L538.85,849.9 L539.62,854.2 L540.38,858.4 L541.15,862.6 L541.92,866.7 L542.69,870.8 L543.46,874.9 L544.23,878.9 L545.00,882.8 L545.77,886.7 L546.54,890.6 L547.31,894.5 L548.08,898.3 L548.85,902.1 L549.62,905.9 L550.38,909.7 L551.15,913.4 L551.92,917.1 L552.69,920.8 L553.46,924.4 L554.23,928.1 L555.00,931.7 L555.77,935.2 L556.54,938.7 L557.31,942.2 L558.08,945.6 L558.85,949.0 L559.62,952.3 L560.38,955.6 L561.15,958.9 L561.92,962.1 L562.69,965.2 L563.46,968.3 L564.23,971.3 L565.00,974.3 L565.77,977.2 L566.54,980.1 L567.31,982.9 L568.08,985.7 L568.85,988.4 L569.62,991.1 L570.38,993.7 L571.15,996.3 L571.92,998.8 L572.69,1001.2 L573.46,1003.6 L574.23,1005.9 L575.00,1008.2 L575.77,1010.4 L576.54,1012.6 L577.31,1014.7 L578.08,1016.8 L578.85,1018.8 L579.62,1020.8 L580.38,1022.7 L581.15,1024.5 L581.92,1026.3 L582.69,1028.1 L583.46,1029.8 L584.23,1031.4 L585.00,1033.1 L585.77,1034.6 L586.54,1036.2 L587.31,1037.7 L588.08,1039.1 L588.85,1040.5 L589.62,1041.9 L590.38,1043.3 L591.15,1044.6 L591.92,1045.9 L592.69,1047.1 L593.46,1048.3 L594.23,1049.5 L595.00,1050.7 L595.77,1051.8 L596.54,1052.9 L597.31,1054.0 L598.08,1055.0 L598.85,1056.0 L599.62,1057.1 L600.38,1058.0 L601.15,1059.0 L601.92,1060.0 L602.69,1060.9 L603.46,1061.8 L604.23,1062.7 L605.00,1063.6 L605.77,1064.5 L606.54,1065.4 L607.31,1066.2 L608.08,1067.1 L608.85,1067.9 L609.62,1068.8 L610.38,1069.6 L611.15,1070.4 L611.92,1071.2 L612.69,1072.0 L613.46,1072.7 L614.23,1073.5 L615.00,1074.3 L615.77,1075.0 L616.54,1075.7 L617.31,1076.5 L618.08,1077.2 L618.85,1077.9 L619.62,1078.6 L620.38,1079.3 L621.15,1079.9 L621.92,1080.6 L622.69,1081.3 L623.46,1081.9 L624.23,1082.6 L625.00,1083.2 L625.77,1083.8 L626.54,1084.4 L627.31,1085.0 L628.08,1085.6 L628.85,1086.2 L629.62,1086.8 L630.38,1087.4 L631.15,1087.9 L631.92,1088.5 L632.69,1089.0 L633.46,1089.6 L634.23,1090.1 L635.00,1090.6 L635.77,1091.1 L636.54,1091.6 L637.31,1092.1 L638.08,1092.6 L638.85,1093.1 L639.62,1093.6 L640.38,1094.0 L641.15,1094.5 L641.92,1094.9 L642.69,1095.4 L643.46,1095.8 L644.23,1096.3 L645.00,1096.7 L645.77,1097.1 L646.54,1097.5 L647.31,1097.9 L648.08,1098.3 L648.85,1098.7 L649.62,1099.1 L650.38,1099.5 L651.15,1099.9 L651.92,1100.2 L652.69,1100.6 L653.46,1100.9 L654.23,1101.3 L655.00,1101.6 L655.77,1102.0 L656.54,1102.3 L657.31,1102.6 L658.08,1102.9 L658.85,1103.3 L659.62,1103.6 L660.38,1103.9 L661.15,1104.2 L661.92,1104.5 L662.69,1104.7 L663.46,1105.0 L664.23,1105.3 L665.00,1105.6 L665.77,1105.8 L666.54,1106.1 L667.31,1106.4 L668.08,1106.6 L668.85,1106.9 L669.62,1107.1 L670.38,1107.3 L671.15,1107.6 L671.92,1107.8 L672.69,1108.0 L673.46,1108.2 L674.23,1108.4 L675.00,1108.6 L675.77,1108.8 L676.54,1109.0 L677.31,1109.2 L678.08,1109.4 L678.85,1109.6 L679.62,1109.8 L680.38,1110.0 L681.15,1110.1 L681.92,1110.3 L682.69,1110.5 L683.46,1110.6 L684.23,1110.8 L685.00,1110.9 L685.77,1111.1 L686.54,1111.2 L687.31,1111.4 L688.08,1111.5 L688.85,1111.7 L689.62,1111.8 L690.38,1111.9 L691.15,1112.0 L691.92,1112.2 L692.69,1112.3 L693.46,1112.4 L694.23,1112.5 L695.00,1112.6 L695.77,1112.7 L696.54,1112.8 L697.31,1112.9 L698.08,1113.0 L698.85,1113.1 L699.62,1113.2 L700.38,1113.3 L701.15,1113.4 L701.92,1113.5 L702.69,1113.6 L703.46,1113.7 L704.23,1113.7 L705.00,1113.8 L705.77,1113.9 L706.54,1114.0 L707.31,1114.0 L708.08,1114.1 L708.85,1114.2 L709.62,1114.2 L710.38,1114.3 L711.15,1114.3 L711.92,1114.4 L712.69,1114.4 L713.46,1114.5 L714.23,1114.6 L715.00,1114.6 L715.77,1114.7 L716.54,1114.7 L717.31,1114.8 L718.08,1114.8 L718.85,1114.8 L719.62,1114.9 L720.38,1114.9 L721.15,1115.0 L721.92,1115.0 L722.69,1115.0 L723.46,1115.1 L724.23,1115.1 L725.00,1115.2 L725.77,1115.2 L726.54,1115.2 L727.31,1115.3 L728.08,1115.3 L728.85,1115.3 L729.62,1115.4 L730.38,1115.4 L731.15,1115.4 L731.92,1115.4 L732.69,1115.5 L733.46,1115.5 L734.23,1115.5 L735.00,1115.6 L735.77,1115.6 L736.54,1115.6 L737.31,1115.7 L738.08,1115.7 L738.85,1115.7 L739.62,1115.8 L740.38,1115.8 L741.15,1115.8 L741.92,1115.8 L742.69,1115.9 L743.46,1115.9 L744.23,1115.9 L745.00,1116.0 L745.77,1116.0 L746.54,1116.1 L747.31,1116.1 L748.08,1116.1 L748.85,1116.2 L749.62,1116.2 L750.38,1116.2 L751.15,1116.3 L751.92,1116.3 L752.69,1116.4 L753.46,1116.4 L754.23,1116.4 L755.00,1116.4 L755.77,1116.5 L756.54,1116.5 L757.31,1116.5 L758.08,1116.5 L758.85,1116.5 L759.62,1116.5 L760.38,1116.5 L761.15,1116.5 L761.92,1116.4 L762.69,1116.4 L763.46,1116.3 L764.23,1116.3 L765.00,1116.2 L765.77,1116.1 L766.54,1116.0 L767.31,1115.9 L768.08,1115.8 L768.85,1115.7 L769.62,1115.5 L770.38,1115.4 L771.15,1115.2 L771.92,1115.0 L772.69,1114.8 L773.46,1114.5 L774.23,1114.3 L775.00,1114.0 L775.77,1113.8 L776.54,1113.5 L777.31,1113.2 L778.08,1112.9 L778.85,1112.6 L779.62,1112.2 L780.38,1111.9 L781.15,1111.5 L781.92,1111.2 L782.69,1110.8 L783.46,1110.4 L784.23,1110.1 L785.00,1109.7 L785.77,1109.3 L786.54,1108.9 L787.31,1108.5 L788.08,1108.0 L788.85,1107.6 L789.62,1107.2 L790.38,1106.8 L791.15,1106.3 L791.92,1105.9 L792.69,1105.5 L793.46,1105.0 L794.23,1104.6 L795.00,1104.1 L795.77,1103.7 L796.54,1103.3 L797.31,1102.8 L798.08,1102.4 L798.85,1101.9 L799.62,1101.5 L800.38,1101.0 L801.15,1100.6 L801.92,1100.1 L802.69,1099.7 L803.46,1099.2 L804.23,1098.8 L805.00,1098.3 L805.77,1097.9 L806.54,1097.4 L807.31,1097.0 L808.08,1096.6 L808.85,1096.1 L809.62,1095.7 L810.38,1095.3 L811.15,1094.9 L811.92,1094.5 L812.69,1094.1 L813.46,1093.6 L814.23,1093.2 L815.00,1092.8 L815.77,1092.4 L816.54,1092.0 L817.31,1091.7 L818.08,1091.3 L818.85,1090.9 L819.62,1090.5 L820.38,1090.1 L821.15,1089.7 L821.92,1089.3 L822.69,1089.0 L823.46,1088.6 L824.23,1088.2 L825.00,1087.8 L825.77,1087.4 L826.54,1087.0 L827.31,1086.7 L828.08,1086.3 L828.85,1085.9 L829.62,1085.5 L830.38,1085.1 L831.15,1084.8 L831.92,1084.4 L832.69,1084.0 L833.46,1083.6 L834.23,1083.2 L835.00,1082.8 L835.77,1082.4 L836.54,1082.0 L837.31,1081.6 L838.08,1081.2 L838.85,1080.8 L839.62,1080.4 L840.38,1079.9 L841.15,1079.5 L841.92,1079.1 L842.69,1078.6 L843.46,1078.2 L844.23,1077.8 L845.00,1077.3 L845.77,1076.9 L846.54,1076.4 L847.31,1075.9 L848.08,1075.4 L848.85,1075.0 L849.62,1074.5 L850.38,1074.0 L851.15,1073.5 L851.92,1073.0 L852.69,1072.4 L853.46,1071.9 L854.23,1071.4 L855.00,1070.8 L855.77,1070.3 L856.54,1069.7 L857.31,1069.1 L858.08,1068.5 L858.85,1067.9 L859.62,1067.3 L860.38,1066.7 L861.15,1066.1 L861.92,1065.4 L862.69,1064.8 L863.46,1064.1 L864.23,1063.4 L865.00,1062.7 L865.77,1062.0 L866.54,1061.3 L867.31,1060.6 L868.08,1059.9 L868.85,1059.1 L869.62,1058.3 L870.38,1057.5 L871.15,1056.7 L871.92,1055.9 L872.69,1055.1 L873.46,1054.3 L874.23,1053.4 L875.00,1052.5 L875.77,1051.6 L876.54,1050.7 L877.31,1049.8 L878.08,1048.9 L878.85,1047.9 L879.62,1047.0 L880.38,1046.0 L881.15,1045.0 L881.92,1043.9 L882.69,1042.9 L883.46,1041.8 L884.23,1040.7 L885.00,1039.6 L885.77,1038.5 L886.54,1037.4 L887.31,1036.2 L888.08,1035.0 L888.85,1033.8 L889.62,1032.6 L890.38,1031.4 L891.15,1030.2 L891.92,1028.9 L892.69,1027.6 L893.46,1026.3 L894.23,1025.0 L895.00,1023.7 L895.77,1022.3 L896.54,1021.0 L897.31,1019.6 L898.08,1018.2 L898.85,1016.8 L899.62,1015.4 L900.38,1014.0 L901.15,1012.6 L901.92,1011.1 L902.69,1009.7 L903.46,1008.2 L904.23,1006.8 L905.00,1005.3 L905.77,1003.8 L906.54,1002.3 L907.31,1000.8 L908.08,999.3 L908.85,997.8 L909.62,996.3 L910.38,994.8 L911.15,993.3 L911.92,991.8 L912.69,990.2 L913.46,988.7 L914.23,987.2 L915.00,985.7 L915.77,984.1 L916.54,982.6 L917.31,981.1 L918.08,979.6 L918.85,978.0 L919.62,976.5 L920.38,975.0 L921.15,973.5 L921.92,972.0 L922.69,970.5 L923.46,968.9 L924.23,967.4 L925.00,965.9 L925.77,964.4 L926.54,962.9 L927.31,961.4 L928.08,959.9 L928.85,958.5 L929.62,957.0 L930.38,955.5 L931.15,954.0 L931.92,952.6 L932.69,951.1 L933.46,949.7 L934.23,948.2 L935.00,946.8 L935.77,945.4 L936.54,943.9 L937.31,942.5 L938.08,941.1 L938.85,939.7 L939.62,938.3 L940.38,937.0 L941.15,935.6 L941.92,934.2 L942.69,932.9 L943.46,931.5 L944.23,930.2 L945.00,928.9 L945.77,927.6 L946.54,926.3 L947.31,925.0 L948.08,923.7 L948.85,922.4 L949.62,921.2 L950.38,919.9 L951.15,918.7 L951.92,917.4 L952.69,916.1 L953.46,914.9 L954.23,913.6 L955.00,912.3 L955.77,911.1 L956.54,909.8 L957.31,908.5 L958.08,907.2 L958.85,905.9 L959.62,904.6 L960.38,903.2 L961.15,901.9 L961.92,900.5 L962.69,899.1 L963.46,897.7 L964.23,896.2 L965.00,894.8 L965.77,893.3 L966.54,891.8 L967.31,890.2 L968.08,888.6 L968.85,887.0 L969.62,885.4 L970.38,883.7 L971.15,882.0 L971.92,880.3 L972.69,878.5 L973.46,876.7 L974.23,874.8 L975.00,872.9 L975.77,871.0 L976.54,869.0 L977.31,867.0 L978.08,865.0 L978.85,862.9 L979.62,860.8 L980.38,858.6 L981.15,856.4 L981.92,854.1 L982.69,851.8 L983.46,849.5 L984.23,847.1 L985.00,844.7 L985.77,842.2 L986.54,839.7 L987.31,837.1 L988.08,834.5 L988.85,831.8 L989.62,829.1 L990.38,826.4 L991.15,823.5 L991.92,820.7 L992.69,817.8 L993.46,814.8 L994.23,811.8 L995.00,808.8 L995.77,805.6 L996.54,802.5 L997.31,799.3 L998.08,796.0 L998.85,792.7 L999.62,789.3 L1000.38,785.9 L1001.15,782.5 L1001.92,779.0 L1002.69,775.4 L1003.46,771.8 L1004.23,768.2 L1005.00,764.5 L1005.77,760.8 L1006.54,757.0 L1007.31,753.2 L1008.08,749.4 L1008.85,745.5 L1009.62,741.6 L1010.38,737.6 L1011.15,733.7 L1011.92,729.6 L1012.69,725.6 L1013.46,721.5 L1014.23,717.4 L1015.00,713.2 L1015.77,709.1 L1016.54,704.9 L1017.31,700.6 L1018.08,696.4 L1018.85,692.1 L1019.62,687.8 L1020.38,683.5 L1021.15,679.1 L1021.92,674.8 L1022.69,670.4 L1023.46,666.1 L1024.23,661.7 L1025.00,657.3 L1025.77,652.9 L1026.54,648.5 L1027.31,644.0 L1028.08,639.6 L1028.85,635.2 L1029.62,630.8 L1030.38,626.4 L1031.15,622.0 L1031.92,617.6 L1032.69,613.2 L1033.46,608.8 L1034.23,604.4 L1035.00,600.0 L1035.77,595.7 L1036.54,591.3 L1037.31,587.0 L1038.08,582.7 L1038.85,578.5 L1039.62,574.2 L1040.38,570.0 L1041.15,565.8 L1041.92,561.6 L1042.69,557.4 L1043.46,553.3 L1044.23,549.2 L1045.00,545.2 L1045.77,541.2 L1046.54,537.2 L1047.31,533.3 L1048.08,529.4 L1048.85,525.6 L1049.62,521.8 L1050.38,518.1 L1051.15,514.4 L1051.92,510.9 L1052.69,507.3 L1053.46,503.9 L1054.23,500.5 L1055.00,497.2 L1055.77,494.0 L1056.54,490.9 L1057.31,487.9 L1058.08,484.9 L1058.85,482.1 L1059.62,479.3 L1060.38,476.7 L1061.15,474.1 L1061.92,471.7 L1062.69,469.4 L1063.46,467.2 L1064.23,465.1 L1065.00,463.1 L1065.77,461.3 L1066.54,459.6 L1067.31,458.0 L1068.08,456.6 L1068.85,455.2 L1069.62,454.1 L1070.38,453.1 L1071.15,452.2 L1071.92,451.4 L1072.69,450.9 L1073.46,450.4 L1074.23,450.1 L1075.00,449.9 L1075.77,449.9 L1076.54,450.0 L1077.31,450.3 L1078.08,450.6 L1078.85,451.2 L1079.62,451.8 L1080.38,452.6 L1081.15,453.5 L1081.92,454.5 L1082.69,455.7 L1083.46,457.0 L1084.23,458.4 L1085.00,459.9 L1085.77,461.5 L1086.54,463.3 L1087.31,465.2 L1088.08,467.2 L1088.85,469.3 L1089.62,471.6 L1090.38,473.9 L1091.15,476.4 L1091.92,479.0 L1092.69,481.7 L1093.46,484.4 L1094.23,487.3 L1095.00,490.4 L1095.77,493.5 L1096.54,496.7 L1097.31,500.0 L1098.08,503.4 L1098.85,506.9 L1099.62,510.5 L1100.38,514.3 L1101.15,518.1 L1101.92,522.0 L1102.69,526.0 L1103.46,530.1 L1104.23,534.2 L1105.00,538.5 L1105.77,542.9 L1106.54,547.3 L1107.31,551.8 L1108.08,556.5 L1108.85,561.2 L1109.62,565.9 L1110.38,570.8 L1111.15,575.7 L1111.92,580.7 L1112.69,585.8 L1113.46,591.0 L1114.23,596.3 L1115.00,601.6 L1115.77,607.0 L1116.54,612.4 L1117.31,617.9 L1118.08,623.5 L1118.85,629.2 L1119.62,634.9 L1120.38,640.7 L1121.15,646.6 L1121.92,652.5 L1122.69,658.4 L1123.46,664.4 L1124.23,670.4 L1125.00,676.5 L1125.77,682.6 L1126.54,688.7 L1127.31,694.9 L1128.08,701.1 L1128.85,707.2 L1129.62,713.4 L1130.38,719.6 L1131.15,725.8 L1131.92,732.0 L1132.69,738.1 L1133.46,744.3 L1134.23,750.4 L1135.00,756.5 L1135.77,762.6 L1136.54,768.6 L1137.31,774.6 L1138.08,780.5 L1138.85,786.4 L1139.62,792.3 L1140.38,798.1 L1141.15,803.8 L1141.92,809.5 L1142.69,815.1 L1143.46,820.6 L1144.23,826.0 L1145.00,831.4 L1145.77,836.8 L1146.54,842.0 L1147.31,847.2 L1148.08,852.4 L1148.85,857.5 L1149.62,862.5 L1150.38,867.4 L1151.15,872.4 L1151.92,877.2 L1152.69,882.0 L1153.46,886.7 L1154.23,891.4 L1155.00,896.1 L1155.77,900.7 L1156.54,905.2 L1157.31,909.7 L1158.08,914.1 L1158.85,918.5 L1159.62,922.8 L1160.38,927.1 L1161.15,931.4 L1161.92,935.6 L1162.69,939.8 L1163.46,943.9 L1164.23,948.0 L1165.00,952.0 L1165.77,956.0 L1166.54,960.0 L1167.31,963.9 L1168.08,967.8 L1168.85,971.7 L1169.62,975.5 L1170.38,979.3 L1171.15,983.1 L1171.92,986.8 L1172.69,990.5 L1173.46,994.2 L1174.23,997.8 L1175.00,1001.4 L1175.77,1005.0 L1176.54,1008.6 L1177.31,1012.1 L1178.08,1015.5 L1178.85,1019.0 L1179.62,1022.4 L1180.38,1025.8 L1181.15,1029.1 L1181.92,1032.4 L1182.69,1035.7 L1183.46,1038.9 L1184.23,1042.1 L1185.00,1045.3 L1185.77,1048.4 L1186.54,1051.5 L1187.31,1054.6 L1188.08,1057.6 L1188.85,1060.6 L1189.62,1063.5 L1190.38,1066.4 L1191.15,1069.3 L1191.92,1072.1 L1192.69,1074.9 L1193.46,1077.7 L1194.23,1080.4 L1195.00,1083.0 L1195.77,1085.7 L1196.54,1088.3 L1197.31,1090.8 L1198.08,1093.3 L1198.85,1095.8 L1199.62,1098.2 L1200.38,1100.6 L1201.15,1103.0 L1201.92,1105.3 L1202.69,1107.6 L1203.46,1109.8 L1204.23,1112.0 L1205.00,1114.1 L1205.77,1116.2 L1206.54,1118.2 L1207.31,1120.3 L1208.08,1122.2 L1208.85,1124.1 L1209.62,1126.0 L1210.38,1127.9 L1211.15,1129.7 L1211.92,1131.5 L1212.69,1133.2 L1213.46,1134.9 L1214.23,1136.5 L1215.00,1138.2 L1215.77,1139.7 L1216.54,1141.3 L1217.31,1142.8 L1218.08,1144.3 L1218.85,1145.7 L1219.62,1147.2 L1220.38,1148.5 L1221.15,1149.9 L1221.92,1151.2 L1222.69,1152.5 L1223.46,1153.8 L1224.23,1155.0 L1225.00,1156.2 L1225.77,1157.4 L1226.54,1158.5 L1227.31,1159.6 L1228.08,1160.7 L1228.85,1161.8 L1229.62,1162.9 L1230.38,1163.9 L1231.15,1164.9 L1231.92,1165.8 L1232.69,1166.8 L1233.46,1167.7 L1234.23,1168.6 L1235.00,1169.5 L1235.77,1170.4 L1236.54,1171.2 L1237.31,1172.1 L1238.08,1172.9 L1238.85,1173.7 L1239.62,1174.4 L1240.38,1175.2 L1241.15,1175.9 L1241.92,1176.6 L1242.69,1177.4 L1243.46,1178.1 L1244.23,1178.7 L1245.00,1179.4 L1245.77,1180.1 L1246.54,1180.7 L1247.31,1181.3 L1248.08,1182.0 L1248.85,1182.6 L1249.62,1183.2 L1250.38,1183.8 L1251.15,1184.3 L1251.92,1184.9 L1252.69,1185.5 L1253.46,1186.0 L1254.23,1186.6 L1255.00,1187.1 L1255.77,1187.7 L1256.54,1188.2 L1257.31,1188.7 L1258.08,1189.2 L1258.85,1189.7 L1259.62,1190.2 L1260.38,1190.6 L1261.15,1191.1 L1261.92,1191.6 L1262.69,1192.0 L1263.46,1192.5 L1264.23,1192.9 L1265.00,1193.3 L1265.77,1193.8 L1266.54,1194.2 L1267.31,1194.6 L1268.08,1195.0 L1268.85,1195.4 L1269.62,1195.8 L1270.38,1196.1 L1271.15,1196.5 L1271.92,1196.9 L1272.69,1197.2 L1273.46,1197.6 L1274.23,1197.9 L1275.00,1198.3 L1275.77,1198.6 L1276.54,1198.9 L1277.31,1199.2 L1278.08,1199.5 L1278.85,1199.9 L1279.62,1200.2 L1280.38,1200.5 L1281.15,1200.7 L1281.92,1201.0 L1282.69,1201.3 L1283.46,1201.6 L1284.23,1201.8 L1285.00,1202.1 L1285.77,1202.4 L1286.54,1202.6 L1287.31,1202.9 L1288.08,1203.1 L1288.85,1203.3 L1289.62,1203.6 L1290.38,1203.8 L1291.15,1204.0 L1291.92,1204.2 L1292.69,1204.5 L1293.46,1204.7 L1294.23,1204.9 L1295.00,1205.1 L1295.77,1205.3 L1296.54,1205.5 L1297.31,1205.7 L1298.08,1205.8 L1298.85,1206.0 L1299.62,1206.2 L1300.38,1206.4 L1301.15,1206.6 L1301.92,1206.7 L1302.69,1206.9 L1303.46,1207.1 L1304.23,1207.2 L1305.00,1207.4 L1305.77,1207.5 L1306.54,1207.7 L1307.31,1207.8 L1308.08,1208.0 L1308.85,1208.1 L1309.62,1208.3 L1310.38,1208.4 L1311.15,1208.6 L1311.92,1208.7 L1312.69,1208.8 L1313.46,1209.0 L1314.23,1209.1 L1315.00,1209.2 L1315.77,1209.3 L1316.54,1209.5 L1317.31,1209.6 L1318.08,1209.7 L1318.85,1209.8 L1319.62,1210.0 L1320.38,1210.1 L1321.15,1210.2 L1321.92,1210.3 L1322.69,1210.4 L1323.46,1210.5 L1324.23,1210.7 L1325.00,1210.8 L1325.77,1210.9 L1326.54,1211.0 L1327.31,1211.1 L1328.08,1211.2 L1328.85,1211.4 L1329.62,1211.5 L1330.38,1211.6 L1331.15,1211.7 L1331.92,1211.8 L1332.69,1211.9 L1333.46,1212.0 L1334.23,1212.2 L1335.00,1212.3 L1335.77,1212.4 L1336.54,1212.5 L1337.31,1212.6 L1338.08,1212.7 L1338.85,1212.9 L1339.62,1213.0 L1340.38,1213.1 L1341.15,1213.2 L1341.92,1213.3 L1342.69,1213.4 L1343.46,1213.6 L1344.23,1213.7 L1345.00,1213.8 L1345.77,1213.9 L1346.54,1214.0 L1347.31,1214.2 L1348.08,1214.3 L1348.85,1214.4 L1349.62,1214.5 L1350.38,1214.6 L1351.15,1214.7 L1351.92,1214.8 L1352.69,1215.0 L1353.46,1215.1 L1354.23,1215.2 L1355.00,1215.3 L1355.77,1215.4 L1356.54,1215.5 L1357.31,1215.6 L1358.08,1215.7 L1358.85,1215.8 L1359.62,1215.9 L1360.38,1216.0 L1361.15,1216.2 L1361.92,1216.3 L1362.69,1216.4 L1363.46,1216.5 L1364.23,1216.5 L1365.00,1216.6 L1365.77,1216.7 L1366.54,1216.8 L1367.31,1216.9 L1368.08,1217.0 L1368.85,1217.1 L1369.62,1217.2 L1370.38,1217.3 L1371.15,1217.4 L1371.92,1217.4 L1372.69,1217.5 L1373.46,1217.6 L1374.23,1217.7 L1375.00,1217.7 L1375.77,1217.8 L1376.54,1217.9 L1377.31,1218.0 L1378.08,1218.0 L1378.85,1218.1 L1379.62,1218.2 L1380.38,1218.2 L1381.15,1218.3 L1381.92,1218.3 L1382.69,1218.4 L1383.46,1218.4 L1384.23,1218.5 L1385.00,1218.5 L1385.77,1218.6 L1386.54,1218.6 L1387.31,1218.7 L1388.08,1218.7 L1388.85,1218.8 L1389.62,1218.8 L1390.38,1218.9 L1391.15,1218.9 L1391.92,1218.9 L1392.69,1219.0 L1393.46,1219.0 L1394.23,1219.1 L1395.00,1219.1 L1395.77,1219.1 L1396.54,1219.1 L1397.31,1219.2 L1398.08,1219.2 L1398.85,1219.2 L1399.62,1219.3 L1400.38,1219.3 L1401.15,1219.3 L1401.92,1219.3 L1402.69,1219.3 L1403.46,1219.4 L1404.23,1219.4 L1405.00,1219.4 L1405.77,1219.4 L1406.54,1219.4 L1407.31,1219.4 L1408.08,1219.5 L1408.85,1219.5 L1409.62,1219.5 L1410.38,1219.5 L1411.15,1219.5 L1411.92,1219.5 L1412.69,1219.5 L1413.46,1219.5 L1414.23,1219.5 L1415.00,1219.5 L1415.77,1219.5 L1416.54,1219.5 L1417.31,1219.5 L1418.08,1219.5 L1418.85,1219.5 L1419.62,1219.5 L1420.38,1219.5 L1421.15,1219.5 L1421.92,1219.5 L1422.69,1219.5 L1423.46,1219.5 L1424.23,1219.5 L1425.00,1219.5 L1425.77,1219.5 L1426.54,1219.5 L1427.31,1219.5 L1428.08,1219.5 L1428.85,1219.5 L1429.62,1219.5 L1430.38,1219.5 L1431.15,1219.4 L1431.92,1219.4 L1432.69,1219.4 L1433.46,1219.4 L1434.23,1219.4 L1435.00,1219.4 L1435.77,1219.4 L1436.54,1219.4 L1437.31,1219.4 L1438.08,1219.3 L1438.85,1219.3 L1439.62,1219.3 L1440.38,1219.3 L1441.15,1219.3 L1441.92,1219.3 L1442.69,1219.3 L1443.46,1219.2 L1444.23,1219.2 L1445.00,1219.2 L1445.77,1219.2 L1446.54,1219.2 L1447.31,1219.2 L1448.08,1219.1 L1448.85,1219.1 L1449.62,1219.1 L1450.38,1219.1 L1451.15,1219.1 L1451.92,1219.1 L1452.69,1219.0 L1453.46,1219.0 L1454.23,1219.0 L1455.00,1219.0 L1455.77,1219.0 L1456.54,1219.0 L1457.31,1219.0 L1458.08,1218.9 L1458.85,1218.9 L1459.62,1218.9 L1460.38,1218.9 L1461.15,1218.9 L1461.92,1218.9 L1462.69,1218.8 L1463.46,1218.8 L1464.23,1218.8 L1465.00,1218.8 L1465.77,1218.8 L1466.54,1218.8 L1467.31,1218.8 L1468.08,1218.8 L1468.85,1218.7 L1469.62,1218.7 L1470.38,1218.7 L1471.15,1218.7 L1471.92,1218.7 L1472.69,1218.7 L1473.46,1218.7 L1474.23,1218.7 L1475.00,1218.7 L1475.77,1218.7 L1476.54,1218.7 L1477.31,1218.7 L1478.08,1218.7 L1478.85,1218.6 L1479.62,1218.6 L1480.38,1218.6 L1481.15,1218.6 L1481.92,1218.6 L1482.69,1218.6 L1483.46,1218.6 L1484.23,1218.6 L1485.00,1218.6 L1485.77,1218.6 L1486.54,1218.6 L1487.31,1218.7 L1488.08,1218.7 L1488.85,1218.7 L1489.62,1218.7 L1490.38,1218.7 L1491.15,1218.7 L1491.92,1218.7 L1492.69,1218.7 L1493.46,1218.7 L1494.23,1218.7 L1495.00,1218.7 L1495.77,1218.7 L1496.54,1218.8 L1497.31,1218.8 L1498.08,1218.8 L1498.85,1218.8 L1499.62,1218.8 L1500.38,1218.8 L1501.15,1218.8 L1501.92,1218.9 L1502.69,1218.9 L1503.46,1218.9 L1504.23,1218.9 L1505.00,1218.9 L1505.77,1219.0 L1506.54,1219.0 L1507.31,1219.0 L1508.08,1219.0 L1508.85,1219.0 L1509.62,1219.1 L1510.38,1219.1 L1511.15,1219.1 L1511.92,1219.1 L1512.69,1219.2 L1513.46,1219.2 L1514.23,1219.2 L1515.00,1219.2 L1515.77,1219.3 L1516.54,1219.3 L1517.31,1219.3 L1518.08,1219.3 L1518.85,1219.4 L1519.62,1219.4 L1520.38,1219.4 L1521.15,1219.4 L1521.92,1219.5 L1522.69,1219.5 L1523.46,1219.5 L1524.23,1219.6 L1525.00,1219.6 L1525.77,1219.6 L1526.54,1219.7 L1527.31,1219.7 L1528.08,1219.7 L1528.85,1219.7 L1529.62,1219.8 L1530.38,1219.8 L1531.15,1219.8 L1531.92,1219.9 L1532.69,1219.9 L1533.46,1219.9 L1534.23,1220.0 L1535.00,1220.0 L1535.77,1220.0 L1536.54,1220.1 L1537.31,1220.1 L1538.08,1220.1 L1538.85,1220.2 L1539.62,1220.2 L1540.38,1220.2 L1541.15,1220.3 L1541.92,1220.3 L1542.69,1220.3 L1543.46,1220.4 L1544.23,1220.4 L1545.00,1220.4 L1545.77,1220.5 L1546.54,1220.5 L1547.31,1220.5 L1548.08,1220.6 L1548.85,1220.6 L1549.62,1220.6 L1550.38,1220.7 L1551.15,1220.7 L1551.92,1220.7 L1552.69,1220.8 L1553.46,1220.8 L1554.23,1220.8 L1555.00,1220.9 L1555.77,1220.9 L1556.54,1220.9 L1557.31,1220.9 L1558.08,1221.0 L1558.85,1221.0 L1559.62,1221.0 L1560.38,1221.1 L1561.15,1221.1 L1561.92,1221.1 L1562.69,1221.2 L1563.46,1221.2 L1564.23,1221.2 L1565.00,1221.3 L1565.77,1221.3 L1566.54,1221.3 L1567.31,1221.3 L1568.08,1221.4 L1568.85,1221.4 L1569.62,1221.4 L1570.38,1221.4 L1571.15,1221.5 L1571.92,1221.5 L1572.69,1221.5 L1573.46,1221.6 L1574.23,1221.6 L1575.00,1221.6 L1575.77,1221.6 L1576.54,1221.7 L1577.31,1221.7 L1578.08,1221.7 L1578.85,1221.7 L1579.62,1221.7 L1580.38,1221.8 L1581.15,1221.8 L1581.92,1221.8 L1582.69,1221.8 L1583.46,1221.9 L1584.23,1221.9 L1585.00,1221.9 L1585.77,1221.9 L1586.54,1221.9 L1587.31,1221.9 L1588.08,1222.0 L1588.85,1222.0 L1589.62,1222.0 L1590.38,1222.0 L1591.15,1222.0 L1591.92,1222.0 L1592.69,1222.0 L1593.46,1222.1 L1594.23,1222.1 L1595.00,1222.1 L1595.77,1222.1 L1596.54,1222.1 L1597.31,1222.1 L1598.08,1222.1 L1598.85,1222.1 L1599.62,1222.1 L1600.38,1222.1 L1601.15,1222.1 L1601.92,1222.1 L1602.69,1222.2 L1603.46,1222.2 L1604.23,1222.2 L1605.00,1222.2 L1605.77,1222.2 L1606.54,1222.2 L1607.31,1222.2 L1608.08,1222.2 L1608.85,1222.2 L1609.62,1222.1 L1610.38,1222.1 L1611.15,1222.1 L1611.92,1222.1 L1612.69,1222.1 L1613.46,1222.1 L1614.23,1222.1 L1615.00,1222.1 L1615.77,1222.1 L1616.54,1222.1 L1617.31,1222.1 L1618.08,1222.0 L1618.85,1222.0 L1619.62,1222.0 L1620.38,1222.0 L1620.77,1222.0"/>
<path class="c" stroke="#0068e1" d="M222.69,1167.7 L223.46,1168.3 L224.23,1169.0 L225.00,1169.6 L225.77,1170.1 L226.54,1170.7 L227.31,1171.2 L228.08,1171.7 L228.85,1172.2 L229.62,1172.7 L230.38,1173.2 L231.15,1173.7 L231.92,1174.1 L232.69,1174.5 L233.46,1174.9 L234.23,1175.3 L235.00,1175.7 L235.77,1176.0 L236.54,1176.4 L237.31,1176.7 L238.08,1177.0 L238.85,1177.3 L239.62,1177.6 L240.38,1177.9 L241.15,1178.2 L241.92,1178.4 L242.69,1178.6 L243.46,1178.9 L244.23,1179.1 L245.00,1179.3 L245.77,1179.5 L246.54,1179.7 L247.31,1179.9 L248.08,1180.0 L248.85,1180.2 L249.62,1180.4 L250.38,1180.5 L251.15,1180.6 L251.92,1180.8 L252.69,1180.9 L253.46,1181.0 L254.23,1181.1 L255.00,1181.2 L255.77,1181.3 L256.54,1181.4 L257.31,1181.5 L258.08,1181.6 L258.85,1181.7 L259.62,1181.8 L260.38,1181.8 L261.15,1181.9 L261.92,1182.0 L262.69,1182.0 L263.46,1182.1 L264.23,1182.2 L265.00,1182.2 L265.77,1182.3 L266.54,1182.3 L267.31,1182.4 L268.08,1182.4 L268.85,1182.5 L269.62,1182.5 L270.38,1182.5 L271.15,1182.6 L271.92,1182.6 L272.69,1182.6 L273.46,1182.7 L274.23,1182.7 L275.00,1182.7 L275.77,1182.7 L276.54,1182.8 L277.31,1182.8 L278.08,1182.8 L278.85,1182.8 L279.62,1182.8 L280.38,1182.8 L281.15,1182.8 L281.92,1182.8 L282.69,1182.8 L283.46,1182.8 L284.23,1182.8 L285.00,1182.8 L285.77,1182.8 L286.54,1182.8 L287.31,1182.8 L288.08,1182.7 L288.85,1182.7 L289.62,1182.7 L290.38,1182.7 L291.15,1182.6 L291.92,1182.6 L292.69,1182.6 L293.46,1182.5 L294.23,1182.5 L295.00,1182.4 L295.77,1182.4 L296.54,1182.3 L297.31,1182.3 L298.08,1182.2 L298.85,1182.2 L299.62,1182.1 L300.38,1182.1 L301.15,1182.0 L301.92,1181.9 L302.69,1181.8 L303.46,1181.8 L304.23,1181.7 L305.00,1181.6 L305.77,1181.5 L306.54,1181.4 L307.31,1181.4 L308.08,1181.3 L308.85,1181.2 L309.62,1181.1 L310.38,1181.0 L311.15,1180.9 L311.92,1180.8 L312.69,1180.7 L313.46,1180.6 L314.23,1180.4 L315.00,1180.3 L315.77,1180.2 L316.54,1180.1 L317.31,1180.0 L318.08,1179.8 L318.85,1179.7 L319.62,1179.6 L320.38,1179.4 L321.15,1179.3 L321.92,1179.1 L322.69,1179.0 L323.46,1178.9 L324.23,1178.7 L325.00,1178.5 L325.77,1178.4 L326.54,1178.2 L327.31,1178.1 L328.08,1177.9 L328.85,1177.7 L329.62,1177.6 L330.38,1177.4 L331.15,1177.2 L331.92,1177.0 L332.69,1176.8 L333.46,1176.7 L334.23,1176.5 L335.00,1176.3 L335.77,1176.1 L336.54,1175.9 L337.31,1175.7 L338.08,1175.5 L338.85,1175.3 L339.62,1175.1 L340.38,1174.9 L341.15,1174.6 L341.92,1174.4 L342.69,1174.2 L343.46,1174.0 L344.23,1173.8 L345.00,1173.5 L345.77,1173.3 L346.54,1173.1 L347.31,1172.8 L348.08,1172.6 L348.85,1172.3 L349.62,1172.1 L350.38,1171.9 L351.15,1171.6 L351.92,1171.3 L352.69,1171.1 L353.46,1170.8 L354.23,1170.6 L355.00,1170.3 L355.77,1170.0 L356.54,1169.8 L357.31,1169.5 L358.08,1169.2 L358.85,1168.9 L359.62,1168.7 L360.38,1168.4 L361.15,1168.1 L361.92,1167.8 L362.69,1167.5 L363.46,1167.2 L364.23,1166.9 L365.00,1166.6 L365.77,1166.3 L366.54,1166.0 L367.31,1165.7 L368.08,1165.4 L368.85,1165.1 L369.62,1164.7 L370.38,1164.4 L371.15,1164.1 L371.92,1163.8 L372.69,1163.4 L373.46,1163.1 L374.23,1162.8 L375.00,1162.4 L375.77,1162.1 L376.54,1161.8 L377.31,1161.4 L378.08,1161.1 L378.85,1160.7 L379.62,1160.4 L380.38,1160.0 L381.15,1159.7 L381.92,1159.3 L382.69,1158.9 L383.46,1158.6 L384.23,1158.2 L385.00,1157.8 L385.77,1157.5 L386.54,1157.1 L387.31,1156.7 L388.08,1156.3 L388.85,1155.9 L389.62,1155.6 L390.38,1155.2 L391.15,1154.8 L391.92,1154.4 L392.69,1154.0 L393.46,1153.6 L394.23,1153.2 L395.00,1152.8 L395.77,1152.4 L396.54,1152.0 L397.31,1151.6 L398.08,1151.1 L398.85,1150.7 L399.62,1150.3 L400.38,1149.9 L401.15,1149.5 L401.92,1149.0 L402.69,1148.6 L403.46,1148.2 L404.23,1147.7 L405.00,1147.3 L405.77,1146.9 L406.54,1146.4 L407.31,1146.0 L408.08,1145.5 L408.85,1145.1 L409.62,1144.6 L410.38,1144.2 L411.15,1143.7 L411.92,1143.3 L412.69,1142.8 L413.46,1142.3 L414.23,1141.9 L415.00,1141.4 L415.77,1140.9 L416.54,1140.4 L417.31,1140.0 L418.08,1139.5 L418.85,1139.0 L419.62,1138.5 L420.38,1138.0 L421.15,1137.5 L421.92,1137.1 L422.69,1136.6 L423.46,1136.1 L424.23,1135.6 L425.00,1135.1 L425.77,1134.6 L426.54,1134.1 L427.31,1133.5 L428.08,1133.0 L428.85,1132.5 L429.62,1132.0 L430.38,1131.5 L431.15,1131.0 L431.92,1130.4 L432.69,1129.9 L433.46,1129.4 L434.23,1128.9 L435.00,1128.3 L435.77,1127.8 L436.54,1127.3 L437.31,1126.7 L438.08,1126.2 L438.85,1125.7 L439.62,1125.1 L440.38,1124.6 L441.15,1124.0 L441.92,1123.5 L442.69,1123.0 L443.46,1122.4 L444.23,1121.9 L445.00,1121.3 L445.77,1120.8 L446.54,1120.3 L447.31,1119.7 L448.08,1119.2 L448.85,1118.7 L449.62,1118.2 L450.38,1117.6 L451.15,1117.1 L451.92,1116.6 L452.69,1116.1 L453.46,1115.6 L454.23,1115.1 L455.00,1114.6 L455.77,1114.1 L456.54,1113.6 L457.31,1113.1 L458.08,1112.6 L458.85,1112.1 L459.62,1111.6 L460.38,1111.2 L461.15,1110.7 L461.92,1110.2 L462.69,1109.8 L463.46,1109.3 L464.23,1108.9 L465.00,1108.5 L465.77,1108.1 L466.54,1107.6 L467.31,1107.2 L468.08,1106.8 L468.85,1106.4 L469.62,1106.0 L470.38,1105.7 L471.15,1105.3 L471.92,1104.9 L472.69,1104.6 L473.46,1104.3 L474.23,1103.9 L475.00,1103.6 L475.77,1103.3 L476.54,1103.0 L477.31,1102.7 L478.08,1102.4 L478.85,1102.2 L479.62,1101.9 L480.38,1101.7 L481.15,1101.4 L481.92,1101.2 L482.69,1101.0 L483.46,1100.8 L484.23,1100.6 L485.00,1100.5 L485.77,1100.3 L486.54,1100.2 L487.31,1100.0 L488.08,1099.9 L488.85,1099.8 L489.62,1099.7 L490.38,1099.6 L491.15,1099.6 L491.92,1099.5 L492.69,1099.5 L493.46,1099.5 L494.23,1099.5 L495.00,1099.5 L495.77,1099.5 L496.54,1099.6 L497.31,1099.7 L498.08,1099.7 L498.85,1099.8 L499.62,1100.0 L500.38,1100.1 L501.15,1100.3 L501.92,1100.4 L502.69,1100.6 L503.46,1100.8 L504.23,1101.0 L505.00,1101.3 L505.77,1101.6 L506.54,1101.8 L507.31,1102.1 L508.08,1102.5 L508.85,1102.8 L509.62,1103.2 L510.38,1103.6 L511.15,1104.0 L511.92,1104.4 L512.69,1104.8 L513.46,1105.3 L514.23,1105.8 L515.00,1106.3 L515.77,1106.8 L516.54,1107.4 L517.31,1108.0 L518.08,1108.6 L518.85,1109.2 L519.62,1109.8 L520.38,1110.5 L521.15,1111.2 L521.92,1111.9 L522.69,1112.6 L523.46,1113.4 L524.23,1114.1 L525.00,1114.9 L525.77,1115.7 L526.54,1116.5 L527.31,1117.4 L528.08,1118.2 L528.85,1119.1 L529.62,1120.0 L530.38,1120.9 L531.15,1121.8 L531.92,1122.7 L532.69,1123.6 L533.46,1124.5 L534.23,1125.5 L535.00,1126.4 L535.77,1127.4 L536.54,1128.4 L537.31,1129.4 L538.08,1130.3 L538.85,1131.3 L539.62,1132.3 L540.38,1133.3 L541.15,1134.3 L541.92,1135.4 L542.69,1136.4 L543.46,1137.4 L544.23,1138.4 L545.00,1139.4 L545.77,1140.4 L546.54,1141.4 L547.31,1142.4 L548.08,1143.5 L548.85,1144.5 L549.62,1145.5 L550.38,1146.5 L551.15,1147.5 L551.92,1148.4 L552.69,1149.4 L553.46,1150.4 L554.23,1151.4 L555.00,1152.3 L555.77,1153.3 L556.54,1154.2 L557.31,1155.2 L558.08,1156.1 L558.85,1157.0 L559.62,1157.9 L560.38,1158.8 L561.15,1159.7 L561.92,1160.6 L562.69,1161.4 L563.46,1162.3 L564.23,1163.2 L565.00,1164.0 L565.77,1164.8 L566.54,1165.7 L567.31,1166.5 L568.08,1167.3 L568.85,1168.1 L569.62,1168.9 L570.38,1169.7 L571.15,1170.4 L571.92,1171.2 L572.69,1171.9 L573.46,1172.7 L574.23,1173.4 L575.00,1174.1 L575.77,1174.8 L576.54,1175.5 L577.31,1176.2 L578.08,1176.9 L578.85,1177.6 L579.62,1178.2 L580.38,1178.9 L581.15,1179.5 L581.92,1180.1 L582.69,1180.8 L583.46,1181.4 L584.23,1181.9 L585.00,1182.5 L585.77,1183.1 L586.54,1183.7 L587.31,1184.2 L588.08,1184.7 L588.85,1185.3 L589.62,1185.8 L590.38,1186.3 L591.15,1186.8 L591.92,1187.2 L592.69,1187.7 L593.46,1188.2 L594.23,1188.6 L595.00,1189.1 L595.77,1189.5 L596.54,1189.9 L597.31,1190.4 L598.08,1190.8 L598.85,1191.2 L599.62,1191.5 L600.38,1191.9 L601.15,1192.3 L601.92,1192.7 L602.69,1193.0 L603.46,1193.4 L604.23,1193.7 L605.00,1194.0 L605.77,1194.3 L606.54,1194.6 L607.31,1195.0 L608.08,1195.3 L608.85,1195.5 L609.62,1195.8 L610.38,1196.1 L611.15,1196.4 L611.92,1196.6 L612.69,1196.9 L613.46,1197.1 L614.23,1197.4 L615.00,1197.6 L615.77,1197.8 L616.54,1198.1 L617.31,1198.3 L618.08,1198.5 L618.85,1198.7 L619.62,1198.9 L620.38,1199.1 L621.15,1199.3 L621.92,1199.5 L622.69,1199.7 L623.46,1199.8 L624.23,1200.0 L625.00,1200.2 L625.77,1200.3 L626.54,1200.5 L627.31,1200.6 L628.08,1200.8 L628.85,1200.9 L629.62,1201.1 L630.38,1201.2 L631.15,1201.3 L631.92,1201.5 L632.69,1201.6 L633.46,1201.7 L634.23,1201.8 L635.00,1202.0 L635.77,1202.1 L636.54,1202.2 L637.31,1202.3 L638.08,1202.4 L638.85,1202.5 L639.62,1202.6 L640.38,1202.7 L641.15,1202.8 L641.92,1202.9 L642.69,1202.9 L643.46,1203.0 L644.23,1203.1 L645.00,1203.2 L645.77,1203.3 L646.54,1203.3 L647.31,1203.4 L648.08,1203.5 L648.85,1203.5 L649.62,1203.6 L650.38,1203.6 L651.15,1203.7 L651.92,1203.7 L652.69,1203.8 L653.46,1203.8 L654.23,1203.9 L655.00,1203.9 L655.77,1203.9 L656.54,1204.0 L657.31,1204.0 L658.08,1204.0 L658.85,1204.0 L659.62,1204.1 L660.38,1204.1 L661.15,1204.1 L661.92,1204.1 L662.69,1204.1 L663.46,1204.1 L664.23,1204.1 L665.00,1204.2 L665.77,1204.2 L666.54,1204.2 L667.31,1204.2 L668.08,1204.1 L668.85,1204.1 L669.62,1204.1 L670.38,1204.1 L671.15,1204.1 L671.92,1204.1 L672.69,1204.1 L673.46,1204.0 L674.23,1204.0 L675.00,1204.0 L675.77,1204.0 L676.54,1203.9 L677.31,1203.9 L678.08,1203.9 L678.85,1203.8 L679.62,1203.8 L680.38,1203.8 L681.15,1203.7 L681.92,1203.7 L682.69,1203.6 L683.46,1203.6 L684.23,1203.5 L685.00,1203.5 L685.77,1203.4 L686.54,1203.4 L687.31,1203.3 L688.08,1203.3 L688.85,1203.2 L689.62,1203.1 L690.38,1203.1 L691.15,1203.0 L691.92,1202.9 L692.69,1202.9 L693.46,1202.8 L694.23,1202.7 L695.00,1202.6 L695.77,1202.6 L696.54,1202.5 L697.31,1202.4 L698.08,1202.3 L698.85,1202.2 L699.62,1202.2 L700.38,1202.1 L701.15,1202.0 L701.92,1201.9 L702.69,1201.8 L703.46,1201.7 L704.23,1201.6 L705.00,1201.5 L705.77,1201.4 L706.54,1201.3 L707.31,1201.2 L708.08,1201.1 L708.85,1201.0 L709.62,1200.9 L710.38,1200.8 L711.15,1200.7 L711.92,1200.6 L712.69,1200.5 L713.46,1200.3 L714.23,1200.2 L715.00,1200.1 L715.77,1200.0 L716.54,1199.9 L717.31,1199.7 L718.08,1199.6 L718.85,1199.5 L719.62,1199.4 L720.38,1199.2 L721.15,1199.1 L721.92,1199.0 L722.69,1198.8 L723.46,1198.7 L724.23,1198.5 L725.00,1198.4 L725.77,1198.3 L726.54,1198.1 L727.31,1198.0 L728.08,1197.8 L728.85,1197.7 L729.62,1197.5 L730.38,1197.4 L731.15,1197.2 L731.92,1197.0 L732.69,1196.9 L733.46,1196.7 L734.23,1196.6 L735.00,1196.4 L735.77,1196.2 L736.54,1196.1 L737.31,1195.9 L738.08,1195.7 L738.85,1195.5 L739.62,1195.4 L740.38,1195.2 L741.15,1195.0 L741.92,1194.8 L742.69,1194.6 L743.46,1194.4 L744.23,1194.3 L745.00,1194.1 L745.77,1193.9 L746.54,1193.7 L747.31,1193.5 L748.08,1193.3 L748.85,1193.1 L749.62,1192.9 L750.38,1192.7 L751.15,1192.5 L751.92,1192.3 L752.69,1192.0 L753.46,1191.8 L754.23,1191.6 L755.00,1191.4 L755.77,1191.2 L756.54,1191.0 L757.31,1190.7 L758.08,1190.5 L758.85,1190.3 L759.62,1190.1 L760.38,1189.8 L761.15,1189.6 L761.92,1189.4 L762.69,1189.1 L763.46,1188.9 L764.23,1188.6 L765.00,1188.4 L765.77,1188.2 L766.54,1187.9 L767.31,1187.7 L768.08,1187.4 L768.85,1187.2 L769.62,1186.9 L770.38,1186.7 L771.15,1186.4 L771.92,1186.1 L772.69,1185.9 L773.46,1185.6 L774.23,1185.3 L775.00,1185.1 L775.77,1184.8 L776.54,1184.5 L777.31,1184.2 L778.08,1184.0 L778.85,1183.7 L779.62,1183.4 L780.38,1183.1 L781.15,1182.8 L781.92,1182.5 L782.69,1182.2 L783.46,1182.0 L784.23,1181.7 L785.00,1181.4 L785.77,1181.1 L786.54,1180.8 L787.31,1180.5 L788.08,1180.2 L788.85,1179.8 L789.62,1179.5 L790.38,1179.2 L791.15,1178.9 L791.92,1178.6 L792.69,1178.3 L793.46,1177.9 L794.23,1177.6 L795.00,1177.3 L795.77,1177.0 L796.54,1176.6 L797.31,1176.3 L798.08,1175.9 L798.85,1175.6 L799.62,1175.3 L800.38,1174.9 L801.15,1174.6 L801.92,1174.2 L802.69,1173.8 L803.46,1173.5 L804.23,1173.1 L805.00,1172.7 L805.77,1172.4 L806.54,1172.0 L807.31,1171.6 L808.08,1171.2 L808.85,1170.8 L809.62,1170.4 L810.38,1170.1 L811.15,1169.7 L811.92,1169.2 L812.69,1168.8 L813.46,1168.4 L814.23,1168.0 L815.00,1167.6 L815.77,1167.2 L816.54,1166.7 L817.31,1166.3 L818.08,1165.9 L818.85,1165.4 L819.62,1165.0 L820.38,1164.5 L821.15,1164.1 L821.92,1163.6 L822.69,1163.1 L823.46,1162.7 L824.23,1162.2 L825.00,1161.7 L825.77,1161.2 L826.54,1160.7 L827.31,1160.2 L828.08,1159.7 L828.85,1159.2 L829.62,1158.7 L830.38,1158.2 L831.15,1157.7 L831.92,1157.2 L832.69,1156.6 L833.46,1156.1 L834.23,1155.5 L835.00,1155.0 L835.77,1154.4 L836.54,1153.9 L837.31,1153.3 L838.08,1152.7 L838.85,1152.2 L839.62,1151.6 L840.38,1151.0 L841.15,1150.4 L841.92,1149.8 L842.69,1149.2 L843.46,1148.5 L844.23,1147.9 L845.00,1147.3 L845.77,1146.6 L846.54,1146.0 L847.31,1145.4 L848.08,1144.7 L848.85,1144.0 L849.62,1143.4 L850.38,1142.7 L851.15,1142.0 L851.92,1141.3 L852.69,1140.6 L853.46,1139.9 L854.23,1139.2 L855.00,1138.5 L855.77,1137.8 L856.54,1137.1 L857.31,1136.4 L858.08,1135.7 L858.85,1135.1 L859.62,1134.4 L860.38,1133.7 L861.15,1133.0 L861.92,1132.3 L862.69,1131.7 L863.46,1131.0 L864.23,1130.4 L865.00,1129.8 L865.77,1129.1 L866.54,1128.5 L867.31,1127.9 L868.08,1127.3 L868.85,1126.7 L869.62,1126.1 L870.38,1125.5 L871.15,1124.8 L871.92,1124.2 L872.69,1123.5 L873.46,1122.9 L874.23,1122.2 L875.00,1121.5 L875.77,1120.7 L876.54,1119.9 L877.31,1119.1 L878.08,1118.3 L878.85,1117.4 L879.62,1116.5 L880.38,1115.6 L881.15,1114.6 L881.92,1113.6 L882.69,1112.6 L883.46,1111.6 L884.23,1110.5 L885.00,1109.4 L885.77,1108.3 L886.54,1107.2 L887.31,1106.1 L888.08,1105.0 L888.85,1103.8 L889.62,1102.6 L890.38,1101.4 L891.15,1100.3 L891.92,1099.1 L892.69,1097.9 L893.46,1096.7 L894.23,1095.5 L895.00,1094.3 L895.77,1093.0 L896.54,1091.8 L897.31,1090.6 L898.08,1089.4 L898.85,1088.3 L899.62,1087.1 L900.38,1085.9 L901.15,1084.7 L901.92,1083.5 L902.69,1082.3 L903.46,1081.1 L904.23,1080.0 L905.00,1078.8 L905.77,1077.6 L906.54,1076.4 L907.31,1075.3 L908.08,1074.1 L908.85,1072.9 L909.62,1071.7 L910.38,1070.6 L911.15,1069.4 L911.92,1068.2 L912.69,1067.1 L913.46,1065.9 L914.23,1064.7 L915.00,1063.6 L915.77,1062.4 L916.54,1061.2 L917.31,1060.0 L918.08,1058.9 L918.85,1057.7 L919.62,1056.5 L920.38,1055.3 L921.15,1054.2 L921.92,1053.0 L922.69,1051.8 L923.46,1050.6 L924.23,1049.4 L925.00,1048.2 L925.77,1047.0 L926.54,1045.9 L927.31,1044.7 L928.08,1043.5 L928.85,1042.3 L929.62,1041.0 L930.38,1039.8 L931.15,1038.6 L931.92,1037.4 L932.69,1036.2 L933.46,1035.0 L934.23,1033.7 L935.00,1032.5 L935.77,1031.3 L936.54,1030.0 L937.31,1028.8 L938.08,1027.5 L938.85,1026.3 L939.62,1025.1 L940.38,1023.8 L941.15,1022.6 L941.92,1021.4 L942.69,1020.1 L943.46,1018.9 L944.23,1017.7 L945.00,1016.5 L945.77,1015.2 L946.54,1014.0 L947.31,1012.8 L948.08,1011.6 L948.85,1010.4 L949.62,1009.3 L950.38,1008.1 L951.15,1006.9 L951.92,1005.7 L952.69,1004.6 L953.46,1003.4 L954.23,1002.2 L955.00,1001.1 L955.77,999.9 L956.54,998.7 L957.31,997.6 L958.08,996.4 L958.85,995.2 L959.62,994.0 L960.38,992.8 L961.15,991.6 L961.92,990.4 L962.69,989.2 L963.46,987.9 L964.23,986.7 L965.00,985.4 L965.77,984.1 L966.54,982.8 L967.31,981.5 L968.08,980.2 L968.85,978.8 L969.62,977.5 L970.38,976.1 L971.15,974.6 L971.92,973.2 L972.69,971.7 L973.46,970.2 L974.23,968.7 L975.00,967.2 L975.77,965.6 L976.54,964.0 L977.31,962.3 L978.08,960.7 L978.85,959.0 L979.62,957.2 L980.38,955.4 L981.15,953.6 L981.92,951.8 L982.69,949.9 L983.46,948.0 L984.23,946.0 L985.00,944.0 L985.77,942.0 L986.54,940.0 L987.31,938.0 L988.08,935.9 L988.85,933.8 L989.62,931.7 L990.38,929.6 L991.15,927.4 L991.92,925.3 L992.69,923.1 L993.46,921.0 L994.23,918.8 L995.00,916.7 L995.77,914.5 L996.54,912.3 L997.31,910.2 L998.08,908.0 L998.85,905.9 L999.62,903.7 L1000.38,901.6 L1001.15,899.5 L1001.92,897.3 L1002.69,895.2 L1003.46,893.0 L1004.23,890.8 L1005.00,888.6 L1005.77,886.3 L1006.54,884.0 L1007.31,881.6 L1008.08,879.1 L1008.85,876.6 L1009.62,873.9 L1010.38,871.2 L1011.15,868.5 L1011.92,865.6 L1012.69,862.8 L1013.46,859.8 L1014.23,856.8 L1015.00,853.7 L1015.77,850.6 L1016.54,847.5 L1017.31,844.3 L1018.08,841.0 L1018.85,837.7 L1019.62,834.4 L1020.38,831.0 L1021.15,827.6 L1021.92,824.1 L1022.69,820.7 L1023.46,817.2 L1024.23,813.7 L1025.00,810.1 L1025.77,806.6 L1026.54,803.0 L1027.31,799.4 L1028.08,795.8 L1028.85,792.2 L1029.62,788.5 L1030.38,784.9 L1031.15,781.3 L1031.92,777.6 L1032.69,774.0 L1033.46,770.4 L1034.23,766.8 L1035.00,763.2 L1035.77,759.6 L1036.54,756.0 L1037.31,752.5 L1038.08,748.9 L1038.85,745.4 L1039.62,741.9 L1040.38,738.5 L1041.15,735.1 L1041.92,731.7 L1042.69,728.4 L1043.46,725.1 L1044.23,721.9 L1045.00,718.7 L1045.77,715.6 L1046.54,712.5 L1047.31,709.5 L1048.08,706.5 L1048.85,703.7 L1049.62,700.9 L1050.38,698.1 L1051.15,695.5 L1051.92,692.9 L1052.69,690.4 L1053.46,688.0 L1054.23,685.7 L1055.00,683.5 L1055.77,681.4 L1056.54,679.3 L1057.31,677.4 L1058.08,675.5 L1058.85,673.7 L1059.62,672.0 L1060.38,670.4 L1061.15,668.9 L1061.92,667.5 L1062.69,666.2 L1063.46,664.9 L1064.23,663.8 L1065.00,662.7 L1065.77,661.7 L1066.54,660.8 L1067.31,660.0 L1068.08,659.2 L1068.85,658.6 L1069.62,658.0 L1070.38,657.5 L1071.15,657.2 L1071.92,656.8 L1072.69,656.6 L1073.46,656.5 L1074.23,656.5 L1075.00,656.5 L1075.77,656.7 L1076.54,656.9 L1077.31,657.2 L1078.08,657.6 L1078.85,658.1 L1079.62,658.7 L1080.38,659.4 L1081.15,660.2 L1081.92,661.0 L1082.69,662.0 L1083.46,663.0 L1084.23,664.2 L1085.00,665.4 L1085.77,666.7 L1086.54,668.2 L1087.31,669.7 L1088.08,671.4 L1088.85,673.1 L1089.62,675.0 L1090.38,676.9 L1091.15,679.0 L1091.92,681.2 L1092.69,683.5 L1093.46,685.9 L1094.23,688.4 L1095.00,691.0 L1095.77,693.7 L1096.54,696.5 L1097.31,699.4 L1098.08,702.5 L1098.85,705.6 L1099.62,708.8 L1100.38,712.1 L1101.15,715.6 L1101.92,719.1 L1102.69,722.7 L1103.46,726.4 L1104.23,730.2 L1105.00,734.2 L1105.77,738.2 L1106.54,742.2 L1107.31,746.4 L1108.08,750.6 L1108.85,754.9 L1109.62,759.2 L1110.38,763.6 L1111.15,768.1 L1111.92,772.5 L1112.69,777.1 L1113.46,781.6 L1114.23,786.2 L1115.00,790.8 L1115.77,795.4 L1116.54,800.0 L1117.31,804.7 L1118.08,809.3 L1118.85,813.9 L1119.62,818.5 L1120.38,823.1 L1121.15,827.7 L1121.92,832.2 L1122.69,836.7 L1123.46,841.2 L1124.23,845.6 L1125.00,850.0 L1125.77,854.3 L1126.54,858.6 L1127.31,862.8 L1128.08,867.0 L1128.85,871.2 L1129.62,875.3 L1130.38,879.4 L1131.15,883.5 L1131.92,887.5 L1132.69,891.6 L1133.46,895.5 L1134.23,899.5 L1135.00,903.5 L1135.77,907.4 L1136.54,911.3 L1137.31,915.2 L1138.08,919.1 L1138.85,923.0 L1139.62,926.8 L1140.38,930.7 L1141.15,934.5 L1141.92,938.4 L1142.69,942.2 L1143.46,946.0 L1144.23,949.8 L1145.00,953.6 L1145.77,957.3 L1146.54,961.1 L1147.31,964.8 L1148.08,968.5 L1148.85,972.2 L1149.62,975.8 L1150.38,979.5 L1151.15,983.1 L1151.92,986.7 L1152.69,990.2 L1153.46,993.8 L1154.23,997.3 L1155.00,1000.8 L1155.77,1004.2 L1156.54,1007.7 L1157.31,1011.1 L1158.08,1014.4 L1158.85,1017.7 L1159.62,1021.0 L1160.38,1024.3 L1161.15,1027.5 L1161.92,1030.7 L1162.69,1033.9 L1163.46,1037.0 L1164.23,1040.1 L1165.00,1043.2 L1165.77,1046.2 L1166.54,1049.2 L1167.31,1052.2 L1168.08,1055.1 L1168.85,1058.0 L1169.62,1060.9 L1170.38,1063.7 L1171.15,1066.5 L1171.92,1069.3 L1172.69,1072.0 L1173.46,1074.7 L1174.23,1077.4 L1175.00,1080.0 L1175.77,1082.6 L1176.54,1085.2 L1177.31,1087.8 L1178.08,1090.3 L1178.85,1092.8 L1179.62,1095.3 L1180.38,1097.7 L1181.15,1100.1 L1181.92,1102.5 L1182.69,1104.9 L1183.46,1107.2 L1184.23,1109.5 L1185.00,1111.8 L1185.77,1114.0 L1186.54,1116.2 L1187.31,1118.4 L1188.08,1120.6 L1188.85,1122.7 L1189.62,1124.8 L1190.38,1126.9 L1191.15,1129.0 L1191.92,1131.0 L1192.69,1132.9 L1193.46,1134.9 L1194.23,1136.8 L1195.00,1138.7 L1195.77,1140.5 L1196.54,1142.4 L1197.31,1144.1 L1198.08,1145.9 L1198.85,1147.6 L1199.62,1149.3 L1200.38,1150.9 L1201.15,1152.5 L1201.92,1154.0 L1202.69,1155.5 L1203.46,1157.0 L1204.23,1158.4 L1205.00,1159.8 L1205.77,1161.1 L1206.54,1162.4 L1207.31,1163.7 L1208.08,1164.9 L1208.85,1166.1 L1209.62,1167.2 L1210.38,1168.3 L1211.15,1169.3 L1211.92,1170.4 L1212.69,1171.4 L1213.46,1172.3 L1214.23,1173.2 L1215.00,1174.1 L1215.77,1175.0 L1216.54,1175.9 L1217.31,1176.7 L1218.08,1177.5 L1218.85,1178.3 L1219.62,1179.1 L1220.38,1179.9 L1221.15,1180.6 L1221.92,1181.4 L1222.69,1182.1 L1223.46,1182.8 L1224.23,1183.5 L1225.00,1184.2 L1225.77,1185.0 L1226.54,1185.6 L1227.31,1186.3 L1228.08,1187.0 L1228.85,1187.7 L1229.62,1188.4 L1230.38,1189.0 L1231.15,1189.7 L1231.92,1190.3 L1232.69,1190.9 L1233.46,1191.6 L1234.23,1192.2 L1235.00,1192.8 L1235.77,1193.4 L1236.54,1194.0 L1237.31,1194.6 L1238.08,1195.1 L1238.85,1195.7 L1239.62,1196.3 L1240.38,1196.8 L1241.15,1197.4 L1241.92,1197.9 L1242.69,1198.4 L1243.46,1199.0 L1244.23,1199.5 L1245.00,1200.0 L1245.77,1200.5 L1246.54,1200.9 L1247.31,1201.4 L1248.08,1201.9 L1248.85,1202.3 L1249.62,1202.8 L1250.38,1203.2 L1251.15,1203.7 L1251.92,1204.1 L1252.69,1204.5 L1253.46,1204.9 L1254.23,1205.3 L1255.00,1205.7 L1255.77,1206.1 L1256.54,1206.5 L1257.31,1206.8 L1258.08,1207.2 L1258.85,1207.5 L1259.62,1207.9 L1260.38,1208.2 L1261.15,1208.5 L1261.92,1208.8 L1262.69,1209.1 L1263.46,1209.4 L1264.23,1209.7 L1265.00,1210.0 L1265.77,1210.3 L1266.54,1210.5 L1267.31,1210.8 L1268.08,1211.1 L1268.85,1211.3 L1269.62,1211.6 L1270.38,1211.8 L1271.15,1212.0 L1271.92,1212.2 L1272.69,1212.5 L1273.46,1212.7 L1274.23,1212.9 L1275.00,1213.1 L1275.77,1213.3 L1276.54,1213.4 L1277.31,1213.6 L1278.08,1213.8 L1278.85,1214.0 L1279.62,1214.1 L1280.38,1214.3 L1281.15,1214.5 L1281.92,1214.6 L1282.69,1214.8 L1283.46,1214.9 L1284.23,1215.0 L1285.00,1215.2 L1285.77,1215.3 L1286.54,1215.4 L1287.31,1215.5 L1288.08,1215.6 L1288.85,1215.8 L1289.62,1215.9 L1290.38,1216.0 L1291.15,1216.1 L1291.92,1216.2 L1292.69,1216.3 L1293.46,1216.3 L1294.23,1216.4 L1295.00,1216.5 L1295.77,1216.6 L1296.54,1216.7 L1297.31,1216.8 L1298.08,1216.8 L1298.85,1216.9 L1299.62,1217.0 L1300.38,1217.0 L1301.15,1217.1 L1301.92,1217.2 L1302.69,1217.2 L1303.46,1217.3 L1304.23,1217.3 L1305.00,1217.4 L1305.77,1217.5 L1306.54,1217.5 L1307.31,1217.6 L1308.08,1217.6 L1308.85,1217.7 L1309.62,1217.7 L1310.38,1217.8 L1311.15,1217.8 L1311.92,1217.9 L1312.69,1217.9 L1313.46,1218.0 L1314.23,1218.0 L1315.00,1218.1 L1315.77,1218.1 L1316.54,1218.2 L1317.31,1218.2 L1318.08,1218.2 L1318.85,1218.3 L1319.62,1218.3 L1320.38,1218.4 L1321.15,1218.4 L1321.92,1218.5 L1322.69,1218.5 L1323.46,1218.6 L1324.23,1218.6 L1325.00,1218.7 L1325.77,1218.7 L1326.54,1218.7 L1327.31,1218.8 L1328.08,1218.8 L1328.85,1218.9 L1329.62,1218.9 L1330.38,1219.0 L1331.15,1219.0 L1331.92,1219.0 L1332.69,1219.1 L1333.46,1219.1 L1334.23,1219.2 L1335.00,1219.2 L1335.77,1219.2 L1336.54,1219.3 L1337.31,1219.3 L1338.08,1219.4 L1338.85,1219.4 L1339.62,1219.4 L1340.38,1219.5 L1341.15,1219.5 L1341.92,1219.5 L1342.69,1219.6 L1343.46,1219.6 L1344.23,1219.7 L1345.00,1219.7 L1345.77,1219.7 L1346.54,1219.8 L1347.31,1219.8 L1348.08,1219.8 L1348.85,1219.9 L1349.62,1219.9 L1350.38,1219.9 L1351.15,1220.0 L1351.92,1220.0 L1352.69,1220.0 L1353.46,1220.1 L1354.23,1220.1 L1355.00,1220.1 L1355.77,1220.2 L1356.54,1220.2 L1357.31,1220.2 L1358.08,1220.3 L1358.85,1220.3 L1359.62,1220.3 L1360.38,1220.4 L1361.15,1220.4 L1361.92,1220.4 L1362.69,1220.5 L1363.46,1220.5 L1364.23,1220.5 L1365.00,1220.5 L1365.77,1220.6 L1366.54,1220.6 L1367.31,1220.6 L1368.08,1220.7 L1368.85,1220.7 L1369.62,1220.7 L1370.38,1220.7 L1371.15,1220.8 L1371.92,1220.8 L1372.69,1220.8 L1373.46,1220.8 L1374.23,1220.9 L1375.00,1220.9 L1375.77,1220.9 L1376.54,1220.9 L1377.31,1221.0 L1378.08,1221.0 L1378.85,1221.0 L1379.62,1221.0 L1380.38,1221.1 L1381.15,1221.1 L1381.92,1221.1 L1382.69,1221.1 L1383.46,1221.1 L1384.23,1221.2 L1385.00,1221.2 L1385.77,1221.2 L1386.54,1221.2 L1387.31,1221.2 L1388.08,1221.3 L1388.85,1221.3 L1389.62,1221.3 L1390.38,1221.3 L1391.15,1221.3 L1391.92,1221.4 L1392.69,1221.4 L1393.46,1221.4 L1394.23,1221.4 L1395.00,1221.4 L1395.77,1221.4 L1396.54,1221.5 L1397.31,1221.5 L1398.08,1221.5 L1398.85,1221.5 L1399.62,1221.5 L1400.38,1221.5 L1401.15,1221.6 L1401.92,1221.6 L1402.69,1221.6 L1403.46,1221.6 L1404.23,1221.6 L1405.00,1221.6 L1405.77,1221.6 L1406.54,1221.6 L1407.31,1221.7 L1408.08,1221.7 L1408.85,1221.7 L1409.62,1221.7 L1410.38,1221.7 L1411.15,1221.7 L1411.92,1221.7 L1412.69,1221.7 L1413.46,1221.7 L1414.23,1221.8 L1415.00,1221.8 L1415.77,1221.8 L1416.54,1221.8 L1417.31,1221.8 L1418.08,1221.8 L1418.85,1221.8 L1419.62,1221.8 L1420.38,1221.8 L1421.15,1221.8 L1421.92,1221.8 L1422.69,1221.8 L1423.46,1221.8 L1424.23,1221.8 L1425.00,1221.8 L1425.77,1221.9 L1426.54,1221.9 L1427.31,1221.9 L1428.08,1221.9 L1428.85,1221.9 L1429.62,1221.9 L1430.38,1221.9 L1431.15,1221.9 L1431.92,1221.9 L1432.69,1221.9 L1433.46,1221.9 L1434.23,1221.9 L1435.00,1221.9 L1435.77,1221.9 L1436.54,1221.9 L1437.31,1221.9 L1438.08,1221.9 L1438.85,1221.9 L1439.62,1221.9 L1440.38,1221.9 L1441.15,1221.9 L1441.92,1221.9 L1442.69,1221.9 L1443.46,1221.9 L1444.23,1221.9 L1445.00,1221.9 L1445.77,1221.9 L1446.54,1221.9 L1447.31,1221.9 L1448.08,1221.8 L1448.85,1221.8 L1449.62,1221.8 L1450.38,1221.8 L1451.15,1221.8 L1451.92,1221.8 L1452.69,1221.8 L1453.46,1221.8 L1454.23,1221.8 L1455.00,1221.8 L1455.77,1221.8 L1456.54,1221.8 L1457.31,1221.8 L1458.08,1221.8 L1458.85,1221.8 L1459.62,1221.8 L1460.38,1221.8 L1461.15,1221.7 L1461.92,1221.7 L1462.69,1221.7 L1463.46,1221.7 L1464.23,1221.7 L1465.00,1221.7 L1465.77,1221.7 L1466.54,1221.7 L1467.31,1221.7 L1468.08,1221.7 L1468.85,1221.7 L1469.62,1221.6 L1470.38,1221.6 L1471.15,1221.6 L1471.92,1221.6 L1472.69,1221.6 L1473.46,1221.6 L1474.23,1221.6 L1475.00,1221.6 L1475.77,1221.6 L1476.54,1221.5 L1477.31,1221.5 L1478.08,1221.5 L1478.85,1221.5 L1479.62,1221.5 L1480.38,1221.5 L1481.15,1221.5 L1481.92,1221.5 L1482.69,1221.4 L1483.46,1221.4 L1484.23,1221.4 L1485.00,1221.4 L1485.77,1221.4 L1486.54,1221.4 L1487.31,1221.4 L1488.08,1221.3 L1488.85,1221.3 L1489.62,1221.3 L1490.38,1221.3 L1491.15,1221.3 L1491.92,1221.3 L1492.69,1221.3 L1493.46,1221.2 L1494.23,1221.2 L1495.00,1221.2 L1495.77,1221.2 L1496.54,1221.2 L1497.31,1221.2 L1498.08,1221.2 L1498.85,1221.1 L1499.62,1221.1 L1500.38,1221.1 L1501.15,1221.1 L1501.92,1221.1 L1502.69,1221.1 L1503.46,1221.0 L1504.23,1221.0 L1505.00,1221.0 L1505.77,1221.0 L1506.54,1221.0 L1507.31,1221.0 L1508.08,1220.9 L1508.85,1220.9 L1509.62,1220.9 L1510.38,1220.9 L1511.15,1220.9 L1511.92,1220.9 L1512.69,1220.8 L1513.46,1220.8 L1514.23,1220.8 L1515.00,1220.8 L1515.77,1220.8 L1516.54,1220.8 L1517.31,1220.7 L1518.08,1220.7 L1518.85,1220.7 L1519.62,1220.7 L1520.38,1220.7 L1521.15,1220.7 L1521.92,1220.6 L1522.69,1220.6 L1523.46,1220.6 L1524.23,1220.6 L1525.00,1220.6 L1525.77,1220.6 L1526.54,1220.5 L1527.31,1220.5 L1528.08,1220.5 L1528.85,1220.5 L1529.62,1220.5 L1530.38,1220.4 L1531.15,1220.4 L1531.92,1220.4 L1532.69,1220.4 L1533.46,1220.4 L1534.23,1220.4 L1535.00,1220.3 L1535.77,1220.3 L1536.54,1220.3 L1537.31,1220.3 L1538.08,1220.3 L1538.85,1220.3 L1539.62,1220.2 L1540.38,1220.2 L1541.15,1220.2 L1541.92,1220.2 L1542.69,1220.2 L1543.46,1220.2 L1544.23,1220.1 L1545.00,1220.1 L1545.77,1220.1 L1546.54,1220.1 L1547.31,1220.1 L1548.08,1220.0 L1548.85,1220.0 L1549.62,1220.0 L1550.38,1220.0 L1551.15,1220.0 L1551.92,1220.0 L1552.69,1219.9 L1553.46,1219.9 L1554.23,1219.9 L1555.00,1219.9 L1555.77,1219.9 L1556.54,1219.9 L1557.31,1219.8 L1558.08,1219.8 L1558.85,1219.8 L1559.62,1219.8 L1560.38,1219.8 L1561.15,1219.8 L1561.92,1219.8 L1562.69,1219.7 L1563.46,1219.7 L1564.23,1219.7 L1565.00,1219.7 L1565.77,1219.7 L1566.54,1219.7 L1567.31,1219.6 L1568.08,1219.6 L1568.85,1219.6 L1569.62,1219.6 L1570.38,1219.6 L1571.15,1219.6 L1571.92,1219.6 L1572.69,1219.5 L1573.46,1219.5 L1574.23,1219.5 L1575.00,1219.5 L1575.77,1219.5 L1576.54,1219.5 L1577.31,1219.5 L1578.08,1219.4 L1578.85,1219.4 L1579.62,1219.4 L1580.38,1219.4 L1581.15,1219.4 L1581.92,1219.4 L1582.69,1219.4 L1583.46,1219.4 L1584.23,1219.3 L1585.00,1219.3 L1585.77,1219.3 L1586.54,1219.3 L1587.31,1219.3 L1588.08,1219.3 L1588.85,1219.3 L1589.62,1219.3 L1590.38,1219.3 L1591.15,1219.2 L1591.92,1219.2 L1592.69,1219.2 L1593.46,1219.2 L1594.23,1219.2 L1595.00,1219.2 L1595.77,1219.2 L1596.54,1219.2 L1597.31,1219.2 L1598.08,1219.2 L1598.85,1219.1 L1599.62,1219.1 L1600.38,1219.1 L1601.15,1219.1 L1601.92,1219.1 L1602.69,1219.1 L1603.46,1219.1 L1604.23,1219.1 L1605.00,1219.1 L1605.77,1219.1 L1606.54,1219.1 L1607.31,1219.1 L1608.08,1219.1 L1608.85,1219.1 L1609.62,1219.0 L1610.38,1219.0 L1611.15,1219.0 L1611.92,1219.0 L1612.69,1219.0 L1613.46,1219.0 L1614.23,1219.0 L1615.00,1219.0 L1615.77,1219.0 L1616.54,1219.0 L1617.31,1219.0 L1618.08,1219.0 L1618.85,1219.0 L1619.62,1219.0 L1620.38,1219.0 L1620.77,1219.0"/>
<path class="c" stroke="#00ad62" d="M222.69,755.1 L223.46,755.1 L224.23,755.2 L225.00,755.3 L225.77,755.3 L226.54,755.4 L227.31,755.5 L228.08,755.7 L228.85,755.8 L229.62,756.0 L230.38,756.1 L231.15,756.3 L231.92,756.5 L232.69,756.7 L233.46,756.9 L234.23,757.2 L235.00,757.4 L235.77,757.7 L236.54,758.0 L237.31,758.3 L238.08,758.6 L238.85,758.9 L239.62,759.3 L240.38,759.6 L241.15,760.0 L241.92,760.4 L242.69,760.8 L243.46,761.2 L244.23,761.6 L245.00,762.1 L245.77,762.6 L246.54,763.0 L247.31,763.5 L248.08,764.1 L248.85,764.6 L249.62,765.1 L250.38,765.7 L251.15,766.3 L251.92,766.9 L252.69,767.5 L253.46,768.1 L254.23,768.8 L255.00,769.5 L255.77,770.1 L256.54,770.9 L257.31,771.6 L258.08,772.3 L258.85,773.1 L259.62,773.8 L260.38,774.6 L261.15,775.4 L261.92,776.3 L262.69,777.1 L263.46,778.0 L264.23,778.9 L265.00,779.8 L265.77,780.7 L266.54,781.6 L267.31,782.6 L268.08,783.6 L268.85,784.5 L269.62,785.6 L270.38,786.6 L271.15,787.6 L271.92,788.7 L272.69,789.8 L273.46,790.9 L274.23,792.1 L275.00,793.2 L275.77,794.4 L276.54,795.6 L277.31,796.8 L278.08,798.0 L278.85,799.3 L279.62,800.5 L280.38,801.8 L281.15,803.1 L281.92,804.5 L282.69,805.8 L283.46,807.2 L284.23,808.6 L285.00,810.0 L285.77,811.4 L286.54,812.9 L287.31,814.4 L288.08,815.9 L288.85,817.4 L289.62,818.9 L290.38,820.5 L291.15,822.1 L291.92,823.7 L292.69,825.3 L293.46,827.0 L294.23,828.7 L295.00,830.4 L295.77,832.1 L296.54,833.8 L297.31,835.6 L298.08,837.3 L298.85,839.1 L299.62,840.9 L300.38,842.7 L301.15,844.5 L301.92,846.4 L302.69,848.2 L303.46,850.0 L304.23,851.9 L305.00,853.8 L305.77,855.6 L306.54,857.5 L307.31,859.4 L308.08,861.3 L308.85,863.1 L309.62,865.0 L310.38,866.9 L311.15,868.8 L311.92,870.6 L312.69,872.5 L313.46,874.4 L314.23,876.2 L315.00,878.1 L315.77,879.9 L316.54,881.8 L317.31,883.6 L318.08,885.5 L318.85,887.3 L319.62,889.2 L320.38,891.0 L321.15,892.8 L321.92,894.7 L322.69,896.5 L323.46,898.4 L324.23,900.2 L325.00,902.0 L325.77,903.9 L326.54,905.7 L327.31,907.6 L328.08,909.4 L328.85,911.3 L329.62,913.1 L330.38,915.0 L331.15,916.8 L331.92,918.7 L332.69,920.6 L333.46,922.4 L334.23,924.3 L335.00,926.2 L335.77,928.1 L336.54,930.0 L337.31,931.9 L338.08,933.8 L338.85,935.7 L339.62,937.6 L340.38,939.5 L341.15,941.4 L341.92,943.3 L342.69,945.3 L343.46,947.2 L344.23,949.1 L345.00,951.0 L345.77,952.9 L346.54,954.8 L347.31,956.7 L348.08,958.6 L348.85,960.5 L349.62,962.4 L350.38,964.2 L351.15,966.1 L351.92,967.9 L352.69,969.8 L353.46,971.6 L354.23,973.4 L355.00,975.2 L355.77,977.0 L356.54,978.8 L357.31,980.5 L358.08,982.2 L358.85,984.0 L359.62,985.7 L360.38,987.3 L361.15,989.0 L361.92,990.6 L362.69,992.2 L363.46,993.8 L364.23,995.4 L365.00,996.9 L365.77,998.4 L366.54,999.9 L367.31,1001.4 L368.08,1002.8 L368.85,1004.2 L369.62,1005.6 L370.38,1006.9 L371.15,1008.2 L371.92,1009.5 L372.69,1010.7 L373.46,1011.9 L374.23,1013.1 L375.00,1014.3 L375.77,1015.4 L376.54,1016.5 L377.31,1017.6 L378.08,1018.6 L378.85,1019.6 L379.62,1020.6 L380.38,1021.6 L381.15,1022.5 L381.92,1023.4 L382.69,1024.3 L383.46,1025.2 L384.23,1026.1 L385.00,1026.9 L385.77,1027.8 L386.54,1028.6 L387.31,1029.3 L388.08,1030.1 L388.85,1030.9 L389.62,1031.6 L390.38,1032.3 L391.15,1033.1 L391.92,1033.8 L392.69,1034.4 L393.46,1035.1 L394.23,1035.8 L395.00,1036.4 L395.77,1037.1 L396.54,1037.7 L397.31,1038.4 L398.08,1039.0 L398.85,1039.6 L399.62,1040.2 L400.38,1040.9 L401.15,1041.5 L401.92,1042.1 L402.69,1042.7 L403.46,1043.3 L404.23,1043.8 L405.00,1044.4 L405.77,1045.0 L406.54,1045.5 L407.31,1046.1 L408.08,1046.6 L408.85,1047.1 L409.62,1047.7 L410.38,1048.2 L411.15,1048.7 L411.92,1049.1 L412.69,1049.6 L413.46,1050.1 L414.23,1050.5 L415.00,1051.0 L415.77,1051.4 L416.54,1051.8 L417.31,1052.2 L418.08,1052.6 L418.85,1052.9 L419.62,1053.3 L420.38,1053.6 L421.15,1053.9 L421.92,1054.2 L422.69,1054.5 L423.46,1054.8 L424.23,1055.0 L425.00,1055.3 L425.77,1055.5 L426.54,1055.7 L427.31,1055.8 L428.08,1056.0 L428.85,1056.1 L429.62,1056.3 L430.38,1056.4 L431.15,1056.5 L431.92,1056.6 L432.69,1056.6 L433.46,1056.7 L434.23,1056.7 L435.00,1056.8 L435.77,1056.8 L436.54,1056.8 L437.31,1056.8 L438.08,1056.9 L438.85,1056.8 L439.62,1056.8 L440.38,1056.8 L441.15,1056.8 L441.92,1056.8 L442.69,1056.8 L443.46,1056.7 L444.23,1056.7 L445.00,1056.7 L445.77,1056.6 L446.54,1056.6 L447.31,1056.6 L448.08,1056.5 L448.85,1056.5 L449.62,1056.5 L450.38,1056.4 L451.15,1056.4 L451.92,1056.4 L452.69,1056.4 L453.46,1056.4 L454.23,1056.4 L455.00,1056.4 L455.77,1056.4 L456.54,1056.5 L457.31,1056.5 L458.08,1056.6 L458.85,1056.6 L459.62,1056.7 L460.38,1056.8 L461.15,1056.9 L461.92,1057.0 L462.69,1057.1 L463.46,1057.2 L464.23,1057.4 L465.00,1057.6 L465.77,1057.8 L466.54,1058.0 L467.31,1058.2 L468.08,1058.5 L468.85,1058.7 L469.62,1059.0 L470.38,1059.3 L471.15,1059.7 L471.92,1060.0 L472.69,1060.4 L473.46,1060.8 L474.23,1061.2 L475.00,1061.7 L475.77,1062.1 L476.54,1062.7 L477.31,1063.2 L478.08,1063.7 L478.85,1064.3 L479.62,1064.9 L480.38,1065.5 L481.15,1066.2 L481.92,1066.8 L482.69,1067.5 L483.46,1068.2 L484.23,1068.9 L485.00,1069.6 L485.77,1070.3 L486.54,1071.0 L487.31,1071.8 L488.08,1072.5 L488.85,1073.3 L489.62,1074.1 L490.38,1074.9 L491.15,1075.7 L491.92,1076.4 L492.69,1077.2 L493.46,1078.0 L494.23,1078.8 L495.00,1079.6 L495.77,1080.4 L496.54,1081.2 L497.31,1082.0 L498.08,1082.8 L498.85,1083.6 L499.62,1084.4 L500.38,1085.1 L501.15,1085.9 L501.92,1086.7 L502.69,1087.4 L503.46,1088.1 L504.23,1088.9 L505.00,1089.6 L505.77,1090.3 L506.54,1091.0 L507.31,1091.6 L508.08,1092.3 L508.85,1093.0 L509.62,1093.6 L510.38,1094.2 L511.15,1094.9 L511.92,1095.5 L512.69,1096.1 L513.46,1096.7 L514.23,1097.3 L515.00,1097.8 L515.77,1098.4 L516.54,1098.9 L517.31,1099.5 L518.08,1100.0 L518.85,1100.6 L519.62,1101.1 L520.38,1101.6 L521.15,1102.1 L521.92,1102.6 L522.69,1103.0 L523.46,1103.5 L524.23,1104.0 L525.00,1104.4 L525.77,1104.8 L526.54,1105.3 L527.31,1105.7 L528.08,1106.1 L528.85,1106.5 L529.62,1106.9 L530.38,1107.3 L531.15,1107.7 L531.92,1108.1 L532.69,1108.4 L533.46,1108.8 L534.23,1109.1 L535.00,1109.5 L535.77,1109.8 L536.54,1110.1 L537.31,1110.4 L538.08,1110.7 L538.85,1111.0 L539.62,1111.3 L540.38,1111.6 L541.15,1111.9 L541.92,1112.2 L542.69,1112.4 L543.46,1112.7 L544.23,1112.9 L545.00,1113.2 L545.77,1113.4 L546.54,1113.6 L547.31,1113.9 L548.08,1114.1 L548.85,1114.3 L549.62,1114.5 L550.38,1114.7 L551.15,1114.9 L551.92,1115.0 L552.69,1115.2 L553.46,1115.4 L554.23,1115.5 L555.00,1115.7 L555.77,1115.8 L556.54,1116.0 L557.31,1116.1 L558.08,1116.2 L558.85,1116.4 L559.62,1116.5 L560.38,1116.6 L561.15,1116.7 L561.92,1116.8 L562.69,1116.9 L563.46,1117.0 L564.23,1117.1 L565.00,1117.1 L565.77,1117.2 L566.54,1117.3 L567.31,1117.3 L568.08,1117.4 L568.85,1117.4 L569.62,1117.5 L570.38,1117.5 L571.15,1117.6 L571.92,1117.6 L572.69,1117.6 L573.46,1117.6 L574.23,1117.7 L575.00,1117.7 L575.77,1117.7 L576.54,1117.7 L577.31,1117.7 L578.08,1117.7 L578.85,1117.6 L579.62,1117.6 L580.38,1117.6 L581.15,1117.6 L581.92,1117.6 L582.69,1117.5 L583.46,1117.5 L584.23,1117.4 L585.00,1117.4 L585.77,1117.4 L586.54,1117.3 L587.31,1117.2 L588.08,1117.2 L588.85,1117.1 L589.62,1117.1 L590.38,1117.0 L591.15,1116.9 L591.92,1116.8 L592.69,1116.8 L593.46,1116.7 L594.23,1116.6 L595.00,1116.5 L595.77,1116.4 L596.54,1116.3 L597.31,1116.2 L598.08,1116.1 L598.85,1116.0 L599.62,1115.9 L600.38,1115.8 L601.15,1115.7 L601.92,1115.6 L602.69,1115.5 L603.46,1115.4 L604.23,1115.3 L605.00,1115.2 L605.77,1115.1 L606.54,1115.0 L607.31,1114.9 L608.08,1114.8 L608.85,1114.7 L609.62,1114.6 L610.38,1114.6 L611.15,1114.5 L611.92,1114.4 L612.69,1114.4 L613.46,1114.4 L614.23,1114.3 L615.00,1114.3 L615.77,1114.3 L616.54,1114.3 L617.31,1114.3 L618.08,1114.3 L618.85,1114.4 L619.62,1114.4 L620.38,1114.5 L621.15,1114.6 L621.92,1114.7 L622.69,1114.8 L623.46,1114.9 L624.23,1115.1 L625.00,1115.3 L625.77,1115.4 L626.54,1115.6 L627.31,1115.9 L628.08,1116.1 L628.85,1116.4 L629.62,1116.6 L630.38,1116.9 L631.15,1117.2 L631.92,1117.5 L632.69,1117.9 L633.46,1118.2 L634.23,1118.6 L635.00,1119.0 L635.77,1119.4 L636.54,1119.8 L637.31,1120.2 L638.08,1120.6 L638.85,1121.1 L639.62,1121.6 L640.38,1122.0 L641.15,1122.5 L641.92,1123.0 L642.69,1123.5 L643.46,1124.0 L644.23,1124.6 L645.00,1125.1 L645.77,1125.7 L646.54,1126.2 L647.31,1126.8 L648.08,1127.4 L648.85,1127.9 L649.62,1128.5 L650.38,1129.1 L651.15,1129.7 L651.92,1130.4 L652.69,1131.0 L653.46,1131.6 L654.23,1132.2 L655.00,1132.9 L655.77,1133.5 L656.54,1134.2 L657.31,1134.8 L658.08,1135.5 L658.85,1136.1 L659.62,1136.8 L660.38,1137.5 L661.15,1138.1 L661.92,1138.8 L662.69,1139.4 L663.46,1140.1 L664.23,1140.8 L665.00,1141.4 L665.77,1142.1 L666.54,1142.8 L667.31,1143.4 L668.08,1144.1 L668.85,1144.7 L669.62,1145.3 L670.38,1146.0 L671.15,1146.6 L671.92,1147.2 L672.69,1147.9 L673.46,1148.5 L674.23,1149.1 L675.00,1149.7 L675.77,1150.2 L676.54,1150.8 L677.31,1151.4 L678.08,1151.9 L678.85,1152.5 L679.62,1153.0 L680.38,1153.5 L681.15,1154.0 L681.92,1154.6 L682.69,1155.0 L683.46,1155.5 L684.23,1156.0 L685.00,1156.5 L685.77,1156.9 L686.54,1157.4 L687.31,1157.8 L688.08,1158.2 L688.85,1158.7 L689.62,1159.1 L690.38,1159.5 L691.15,1159.9 L691.92,1160.3 L692.69,1160.7 L693.46,1161.1 L694.23,1161.5 L695.00,1161.9 L695.77,1162.3 L696.54,1162.7 L697.31,1163.1 L698.08,1163.4 L698.85,1163.8 L699.62,1164.2 L700.38,1164.5 L701.15,1164.9 L701.92,1165.3 L702.69,1165.6 L703.46,1166.0 L704.23,1166.3 L705.00,1166.6 L705.77,1167.0 L706.54,1167.3 L707.31,1167.6 L708.08,1168.0 L708.85,1168.3 L709.62,1168.6 L710.38,1168.9 L711.15,1169.3 L711.92,1169.6 L712.69,1169.9 L713.46,1170.2 L714.23,1170.5 L715.00,1170.8 L715.77,1171.1 L716.54,1171.4 L717.31,1171.7 L718.08,1172.0 L718.85,1172.2 L719.62,1172.5 L720.38,1172.8 L721.15,1173.1 L721.92,1173.4 L722.69,1173.6 L723.46,1173.9 L724.23,1174.2 L725.00,1174.4 L725.77,1174.7 L726.54,1174.9 L727.31,1175.2 L728.08,1175.4 L728.85,1175.7 L729.62,1175.9 L730.38,1176.2 L731.15,1176.4 L731.92,1176.6 L732.69,1176.9 L733.46,1177.1 L734.23,1177.3 L735.00,1177.6 L735.77,1177.8 L736.54,1178.0 L737.31,1178.2 L738.08,1178.5 L738.85,1178.7 L739.62,1178.9 L740.38,1179.1 L741.15,1179.3 L741.92,1179.5 L742.69,1179.7 L743.46,1179.9 L744.23,1180.1 L745.00,1180.3 L745.77,1180.5 L746.54,1180.7 L747.31,1180.9 L748.08,1181.1 L748.85,1181.3 L749.62,1181.5 L750.38,1181.6 L751.15,1181.8 L751.92,1182.0 L752.69,1182.2 L753.46,1182.4 L754.23,1182.5 L755.00,1182.7 L755.77,1182.9 L756.54,1183.0 L757.31,1183.2 L758.08,1183.4 L758.85,1183.5 L759.62,1183.7 L760.38,1183.9 L761.15,1184.0 L761.92,1184.2 L762.69,1184.3 L763.46,1184.5 L764.23,1184.6 L765.00,1184.8 L765.77,1184.9 L766.54,1185.1 L767.31,1185.2 L768.08,1185.4 L768.85,1185.5 L769.62,1185.7 L770.38,1185.8 L771.15,1185.9 L771.92,1186.1 L772.69,1186.2 L773.46,1186.4 L774.23,1186.5 L775.00,1186.6 L775.77,1186.8 L776.54,1186.9 L777.31,1187.0 L778.08,1187.1 L778.85,1187.3 L779.62,1187.4 L780.38,1187.5 L781.15,1187.7 L781.92,1187.8 L782.69,1187.9 L783.46,1188.0 L784.23,1188.1 L785.00,1188.3 L785.77,1188.4 L786.54,1188.5 L787.31,1188.6 L788.08,1188.7 L788.85,1188.9 L789.62,1189.0 L790.38,1189.1 L791.15,1189.2 L791.92,1189.3 L792.69,1189.4 L793.46,1189.5 L794.23,1189.6 L795.00,1189.8 L795.77,1189.9 L796.54,1190.0 L797.31,1190.1 L798.08,1190.2 L798.85,1190.3 L799.62,1190.4 L800.38,1190.5 L801.15,1190.6 L801.92,1190.7 L802.69,1190.8 L803.46,1190.9 L804.23,1191.0 L805.00,1191.1 L805.77,1191.2 L806.54,1191.3 L807.31,1191.4 L808.08,1191.5 L808.85,1191.6 L809.62,1191.7 L810.38,1191.8 L811.15,1191.9 L811.92,1192.0 L812.69,1192.1 L813.46,1192.1 L814.23,1192.2 L815.00,1192.3 L815.77,1192.4 L816.54,1192.5 L817.31,1192.6 L818.08,1192.7 L818.85,1192.8 L819.62,1192.9 L820.38,1192.9 L821.15,1193.0 L821.92,1193.1 L822.69,1193.2 L823.46,1193.3 L824.23,1193.4 L825.00,1193.4 L825.77,1193.5 L826.54,1193.6 L827.31,1193.7 L828.08,1193.8 L828.85,1193.8 L829.62,1193.9 L830.38,1194.0 L831.15,1194.1 L831.92,1194.2 L832.69,1194.2 L833.46,1194.3 L834.23,1194.4 L835.00,1194.5 L835.77,1194.5 L836.54,1194.6 L837.31,1194.7 L838.08,1194.8 L838.85,1194.8 L839.62,1194.9 L840.38,1195.0 L841.15,1195.0 L841.92,1195.1 L842.69,1195.2 L843.46,1195.3 L844.23,1195.3 L845.00,1195.4 L845.77,1195.5 L846.54,1195.5 L847.31,1195.6 L848.08,1195.7 L848.85,1195.7 L849.62,1195.8 L850.38,1195.9 L851.15,1195.9 L851.92,1196.0 L852.69,1196.1 L853.46,1196.1 L854.23,1196.2 L855.00,1196.3 L855.77,1196.3 L856.54,1196.4 L857.31,1196.5 L858.08,1196.5 L858.85,1196.6 L859.62,1196.7 L860.38,1196.7 L861.15,1196.8 L861.92,1196.9 L862.69,1196.9 L863.46,1197.0 L864.23,1197.0 L865.00,1197.1 L865.77,1197.2 L866.54,1197.2 L867.31,1197.3 L868.08,1197.4 L868.85,1197.4 L869.62,1197.5 L870.38,1197.5 L871.15,1197.6 L871.92,1197.7 L872.69,1197.7 L873.46,1197.8 L874.23,1197.8 L875.00,1197.9 L875.77,1198.0 L876.54,1198.0 L877.31,1198.1 L878.08,1198.1 L878.85,1198.2 L879.62,1198.3 L880.38,1198.3 L881.15,1198.4 L881.92,1198.4 L882.69,1198.5 L883.46,1198.6 L884.23,1198.6 L885.00,1198.7 L885.77,1198.7 L886.54,1198.8 L887.31,1198.8 L888.08,1198.9 L888.85,1199.0 L889.62,1199.0 L890.38,1199.1 L891.15,1199.1 L891.92,1199.2 L892.69,1199.2 L893.46,1199.3 L894.23,1199.4 L895.00,1199.4 L895.77,1199.5 L896.54,1199.5 L897.31,1199.6 L898.08,1199.6 L898.85,1199.7 L899.62,1199.8 L900.38,1199.8 L901.15,1199.9 L901.92,1199.9 L902.69,1200.0 L903.46,1200.0 L904.23,1200.1 L905.00,1200.1 L905.77,1200.2 L906.54,1200.2 L907.31,1200.3 L908.08,1200.3 L908.85,1200.4 L909.62,1200.5 L910.38,1200.5 L911.15,1200.6 L911.92,1200.6 L912.69,1200.7 L913.46,1200.7 L914.23,1200.8 L915.00,1200.8 L915.77,1200.9 L916.54,1200.9 L917.31,1201.0 L918.08,1201.0 L918.85,1201.1 L919.62,1201.1 L920.38,1201.2 L921.15,1201.2 L921.92,1201.3 L922.69,1201.3 L923.46,1201.4 L924.23,1201.4 L925.00,1201.5 L925.77,1201.5 L926.54,1201.6 L927.31,1201.6 L928.08,1201.7 L928.85,1201.7 L929.62,1201.8 L930.38,1201.8 L931.15,1201.9 L931.92,1201.9 L932.69,1202.0 L933.46,1202.0 L934.23,1202.1 L935.00,1202.1 L935.77,1202.2 L936.54,1202.2 L937.31,1202.3 L938.08,1202.3 L938.85,1202.4 L939.62,1202.4 L940.38,1202.5 L941.15,1202.5 L941.92,1202.6 L942.69,1202.6 L943.46,1202.7 L944.23,1202.7 L945.00,1202.8 L945.77,1202.8 L946.54,1202.9 L947.31,1202.9 L948.08,1203.0 L948.85,1203.0 L949.62,1203.1 L950.38,1203.1 L951.15,1203.2 L951.92,1203.2 L952.69,1203.2 L953.46,1203.3 L954.23,1203.3 L955.00,1203.4 L955.77,1203.4 L956.54,1203.5 L957.31,1203.5 L958.08,1203.6 L958.85,1203.6 L959.62,1203.7 L960.38,1203.7 L961.15,1203.8 L961.92,1203.8 L962.69,1203.8 L963.46,1203.9 L964.23,1203.9 L965.00,1204.0 L965.77,1204.0 L966.54,1204.1 L967.31,1204.1 L968.08,1204.2 L968.85,1204.2 L969.62,1204.3 L970.38,1204.3 L971.15,1204.3 L971.92,1204.4 L972.69,1204.4 L973.46,1204.5 L974.23,1204.5 L975.00,1204.6 L975.77,1204.6 L976.54,1204.7 L977.31,1204.7 L978.08,1204.7 L978.85,1204.8 L979.62,1204.8 L980.38,1204.9 L981.15,1204.9 L981.92,1205.0 L982.69,1205.0 L983.46,1205.1 L984.23,1205.1 L985.00,1205.1 L985.77,1205.2 L986.54,1205.2 L987.31,1205.3 L988.08,1205.3 L988.85,1205.4 L989.62,1205.4 L990.38,1205.4 L991.15,1205.5 L991.92,1205.5 L992.69,1205.6 L993.46,1205.6 L994.23,1205.7 L995.00,1205.7 L995.77,1205.7 L996.54,1205.8 L997.31,1205.8 L998.08,1205.9 L998.85,1205.9 L999.62,1206.0 L1000.38,1206.0 L1001.15,1206.0 L1001.92,1206.1 L1002.69,1206.1 L1003.46,1206.2 L1004.23,1206.2 L1005.00,1206.3 L1005.77,1206.3 L1006.54,1206.3 L1007.31,1206.4 L1008.08,1206.4 L1008.85,1206.5 L1009.62,1206.5 L1010.38,1206.6 L1011.15,1206.6 L1011.92,1206.6 L1012.69,1206.7 L1013.46,1206.7 L1014.23,1206.8 L1015.00,1206.8 L1015.77,1206.8 L1016.54,1206.9 L1017.31,1206.9 L1018.08,1207.0 L1018.85,1207.0 L1019.62,1207.1 L1020.38,1207.1 L1021.15,1207.1 L1021.92,1207.2 L1022.69,1207.2 L1023.46,1207.3 L1024.23,1207.3 L1025.00,1207.3 L1025.77,1207.4 L1026.54,1207.4 L1027.31,1207.5 L1028.08,1207.5 L1028.85,1207.6 L1029.62,1207.6 L1030.38,1207.6 L1031.15,1207.7 L1031.92,1207.7 L1032.69,1207.8 L1033.46,1207.8 L1034.23,1207.8 L1035.00,1207.9 L1035.77,1207.9 L1036.54,1208.0 L1037.31,1208.0 L1038.08,1208.1 L1038.85,1208.1 L1039.62,1208.1 L1040.38,1208.2 L1041.15,1208.2 L1041.92,1208.3 L1042.69,1208.3 L1043.46,1208.3 L1044.23,1208.4 L1045.00,1208.4 L1045.77,1208.5 L1046.54,1208.5 L1047.31,1208.5 L1048.08,1208.6 L1048.85,1208.6 L1049.62,1208.7 L1050.38,1208.7 L1051.15,1208.8 L1051.92,1208.8 L1052.69,1208.8 L1053.46,1208.9 L1054.23,1208.9 L1055.00,1209.0 L1055.77,1209.0 L1056.54,1209.0 L1057.31,1209.1 L1058.08,1209.1 L1058.85,1209.2 L1059.62,1209.2 L1060.38,1209.3 L1061.15,1209.3 L1061.92,1209.3 L1062.69,1209.4 L1063.46,1209.4 L1064.23,1209.5 L1065.00,1209.5 L1065.77,1209.5 L1066.54,1209.6 L1067.31,1209.6 L1068.08,1209.7 L1068.85,1209.7 L1069.62,1209.8 L1070.38,1209.8 L1071.15,1209.8 L1071.92,1209.9 L1072.69,1209.9 L1073.46,1210.0 L1074.23,1210.0 L1075.00,1210.1 L1075.77,1210.1 L1076.54,1210.1 L1077.31,1210.2 L1078.08,1210.2 L1078.85,1210.3 L1079.62,1210.3 L1080.38,1210.3 L1081.15,1210.4 L1081.92,1210.4 L1082.69,1210.5 L1083.46,1210.5 L1084.23,1210.6 L1085.00,1210.6 L1085.77,1210.6 L1086.54,1210.7 L1087.31,1210.7 L1088.08,1210.8 L1088.85,1210.8 L1089.62,1210.9 L1090.38,1210.9 L1091.15,1210.9 L1091.92,1211.0 L1092.69,1211.0 L1093.46,1211.1 L1094.23,1211.1 L1095.00,1211.2 L1095.77,1211.2 L1096.54,1211.3 L1097.31,1211.3 L1098.08,1211.3 L1098.85,1211.4 L1099.62,1211.4 L1100.38,1211.5 L1101.15,1211.5 L1101.92,1211.6 L1102.69,1211.6 L1103.46,1211.6 L1104.23,1211.7 L1105.00,1211.7 L1105.77,1211.8 L1106.54,1211.8 L1107.31,1211.9 L1108.08,1211.9 L1108.85,1212.0 L1109.62,1212.0 L1110.38,1212.0 L1111.15,1212.1 L1111.92,1212.1 L1112.69,1212.2 L1113.46,1212.2 L1114.23,1212.3 L1115.00,1212.3 L1115.77,1212.4 L1116.54,1212.4 L1117.31,1212.4 L1118.08,1212.5 L1118.85,1212.5 L1119.62,1212.6 L1120.38,1212.6 L1121.15,1212.7 L1121.92,1212.7 L1122.69,1212.8 L1123.46,1212.8 L1124.23,1212.9 L1125.00,1212.9 L1125.77,1212.9 L1126.54,1213.0 L1127.31,1213.0 L1128.08,1213.1 L1128.85,1213.1 L1129.62,1213.2 L1130.38,1213.2 L1131.15,1213.3 L1131.92,1213.3 L1132.69,1213.4 L1133.46,1213.4 L1134.23,1213.4 L1135.00,1213.5 L1135.77,1213.5 L1136.54,1213.6 L1137.31,1213.6 L1138.08,1213.7 L1138.85,1213.7 L1139.62,1213.8 L1140.38,1213.8 L1141.15,1213.9 L1141.92,1213.9 L1142.69,1213.9 L1143.46,1214.0 L1144.23,1214.0 L1145.00,1214.1 L1145.77,1214.1 L1146.54,1214.2 L1147.31,1214.2 L1148.08,1214.3 L1148.85,1214.3 L1149.62,1214.4 L1150.38,1214.4 L1151.15,1214.4 L1151.92,1214.5 L1152.69,1214.5 L1153.46,1214.6 L1154.23,1214.6 L1155.00,1214.7 L1155.77,1214.7 L1156.54,1214.8 L1157.31,1214.8 L1158.08,1214.8 L1158.85,1214.9 L1159.62,1214.9 L1160.38,1215.0 L1161.15,1215.0 L1161.92,1215.1 L1162.69,1215.1 L1163.46,1215.1 L1164.23,1215.2 L1165.00,1215.2 L1165.77,1215.3 L1166.54,1215.3 L1167.31,1215.4 L1168.08,1215.4 L1168.85,1215.4 L1169.62,1215.5 L1170.38,1215.5 L1171.15,1215.6 L1171.92,1215.6 L1172.69,1215.7 L1173.46,1215.7 L1174.23,1215.7 L1175.00,1215.8 L1175.77,1215.8 L1176.54,1215.9 L1177.31,1215.9 L1178.08,1215.9 L1178.85,1216.0 L1179.62,1216.0 L1180.38,1216.1 L1181.15,1216.1 L1181.92,1216.1 L1182.69,1216.2 L1183.46,1216.2 L1184.23,1216.3 L1185.00,1216.3 L1185.77,1216.3 L1186.54,1216.4 L1187.31,1216.4 L1188.08,1216.5 L1188.85,1216.5 L1189.62,1216.5 L1190.38,1216.6 L1191.15,1216.6 L1191.92,1216.6 L1192.69,1216.7 L1193.46,1216.7 L1194.23,1216.7 L1195.00,1216.8 L1195.77,1216.8 L1196.54,1216.9 L1197.31,1216.9 L1198.08,1216.9 L1198.85,1217.0 L1199.62,1217.0 L1200.38,1217.0 L1201.15,1217.1 L1201.92,1217.1 L1202.69,1217.1 L1203.46,1217.2 L1204.23,1217.2 L1205.00,1217.2 L1205.77,1217.3 L1206.54,1217.3 L1207.31,1217.3 L1208.08,1217.4 L1208.85,1217.4 L1209.62,1217.4 L1210.38,1217.5 L1211.15,1217.5 L1211.92,1217.5 L1212.69,1217.6 L1213.46,1217.6 L1214.23,1217.6 L1215.00,1217.6 L1215.77,1217.7 L1216.54,1217.7 L1217.31,1217.7 L1218.08,1217.8 L1218.85,1217.8 L1219.62,1217.8 L1220.38,1217.8 L1221.15,1217.9 L1221.92,1217.9 L1222.69,1217.9 L1223.46,1218.0 L1224.23,1218.0 L1225.00,1218.0 L1225.77,1218.0 L1226.54,1218.1 L1227.31,1218.1 L1228.08,1218.1 L1228.85,1218.1 L1229.62,1218.2 L1230.38,1218.2 L1231.15,1218.2 L1231.92,1218.2 L1232.69,1218.3 L1233.46,1218.3 L1234.23,1218.3 L1235.00,1218.3 L1235.77,1218.4 L1236.54,1218.4 L1237.31,1218.4 L1238.08,1218.4 L1238.85,1218.5 L1239.62,1218.5 L1240.38,1218.5 L1241.15,1218.5 L1241.92,1218.6 L1242.69,1218.6 L1243.46,1218.6 L1244.23,1218.6 L1245.00,1218.6 L1245.77,1218.7 L1246.54,1218.7 L1247.31,1218.7 L1248.08,1218.7 L1248.85,1218.7 L1249.62,1218.8 L1250.38,1218.8 L1251.15,1218.8 L1251.92,1218.8 L1252.69,1218.8 L1253.46,1218.9 L1254.23,1218.9 L1255.00,1218.9 L1255.77,1218.9 L1256.54,1218.9 L1257.31,1219.0 L1258.08,1219.0 L1258.85,1219.0 L1259.62,1219.0 L1260.38,1219.0 L1261.15,1219.1 L1261.92,1219.1 L1262.69,1219.1 L1263.46,1219.1 L1264.23,1219.1 L1265.00,1219.1 L1265.77,1219.2 L1266.54,1219.2 L1267.31,1219.2 L1268.08,1219.2 L1268.85,1219.2 L1269.62,1219.2 L1270.38,1219.2 L1271.15,1219.3 L1271.92,1219.3 L1272.69,1219.3 L1273.46,1219.3 L1274.23,1219.3 L1275.00,1219.3 L1275.77,1219.4 L1276.54,1219.4 L1277.31,1219.4 L1278.08,1219.4 L1278.85,1219.4 L1279.62,1219.4 L1280.38,1219.4 L1281.15,1219.4 L1281.92,1219.5 L1282.69,1219.5 L1283.46,1219.5 L1284.23,1219.5 L1285.00,1219.5 L1285.77,1219.5 L1286.54,1219.5 L1287.31,1219.5 L1288.08,1219.6 L1288.85,1219.6 L1289.62,1219.6 L1290.38,1219.6 L1291.15,1219.6 L1291.92,1219.6 L1292.69,1219.6 L1293.46,1219.6 L1294.23,1219.6 L1295.00,1219.7 L1295.77,1219.7 L1296.54,1219.7 L1297.31,1219.7 L1298.08,1219.7 L1298.85,1219.7 L1299.62,1219.7 L1300.38,1219.7 L1301.15,1219.7 L1301.92,1219.7 L1302.69,1219.7 L1303.46,1219.8 L1304.23,1219.8 L1305.00,1219.8 L1305.77,1219.8 L1306.54,1219.8 L1307.31,1219.8 L1308.08,1219.8 L1308.85,1219.8 L1309.62,1219.8 L1310.38,1219.8 L1311.15,1219.8 L1311.92,1219.8 L1312.69,1219.8 L1313.46,1219.9 L1314.23,1219.9 L1315.00,1219.9 L1315.77,1219.9 L1316.54,1219.9 L1317.31,1219.9 L1318.08,1219.9 L1318.85,1219.9 L1319.62,1219.9 L1320.38,1219.9 L1321.15,1219.9 L1321.92,1219.9 L1322.69,1219.9 L1323.46,1219.9 L1324.23,1219.9 L1325.00,1219.9 L1325.77,1219.9 L1326.54,1219.9 L1327.31,1219.9 L1328.08,1220.0 L1328.85,1220.0 L1329.62,1220.0 L1330.38,1220.0 L1331.15,1220.0 L1331.92,1220.0 L1332.69,1220.0 L1333.46,1220.0 L1334.23,1220.0 L1335.00,1220.0 L1335.77,1220.0 L1336.54,1220.0 L1337.31,1220.0 L1338.08,1220.0 L1338.85,1220.0 L1339.62,1220.0 L1340.38,1220.0 L1341.15,1220.0 L1341.92,1220.0 L1342.69,1220.0 L1343.46,1220.0 L1344.23,1220.0 L1345.00,1220.0 L1345.77,1220.0 L1346.54,1220.0 L1347.31,1220.0 L1348.08,1220.0 L1348.85,1220.0 L1349.62,1220.0 L1350.38,1220.0 L1351.15,1220.0 L1351.92,1220.0 L1352.69,1220.0 L1353.46,1220.0 L1354.23,1220.0 L1355.00,1220.0 L1355.77,1220.0 L1356.54,1220.0 L1357.31,1220.0 L1358.08,1220.0 L1358.85,1220.0 L1359.62,1220.0 L1360.38,1220.0 L1361.15,1220.0 L1361.92,1220.0 L1362.69,1220.0 L1363.46,1220.0 L1364.23,1220.0 L1365.00,1220.0 L1365.77,1220.0 L1366.54,1220.0 L1367.31,1220.0 L1368.08,1220.0 L1368.85,1220.0 L1369.62,1220.0 L1370.38,1220.0 L1371.15,1220.0 L1371.92,1220.0 L1372.69,1220.0 L1373.46,1220.0 L1374.23,1220.0 L1375.00,1220.0 L1375.77,1220.0 L1376.54,1220.0 L1377.31,1220.0 L1378.08,1220.0 L1378.85,1220.0 L1379.62,1220.0 L1380.38,1220.0 L1381.15,1220.0 L1381.92,1220.0 L1382.69,1220.0 L1383.46,1220.0 L1384.23,1220.0 L1385.00,1220.0 L1385.77,1220.0 L1386.54,1220.0 L1387.31,1220.0 L1388.08,1220.0 L1388.85,1220.0 L1389.62,1220.0 L1390.38,1220.0 L1391.15,1220.0 L1391.92,1220.0 L1392.69,1219.9 L1393.46,1219.9 L1394.23,1219.9 L1395.00,1219.9 L1395.77,1219.9 L1396.54,1219.9 L1397.31,1219.9 L1398.08,1219.9 L1398.85,1219.9 L1399.62,1219.9 L1400.38,1219.9 L1401.15,1219.9 L1401.92,1219.9 L1402.69,1219.9 L1403.46,1219.9 L1404.23,1219.9 L1405.00,1219.9 L1405.77,1219.9 L1406.54,1219.9 L1407.31,1219.9 L1408.08,1219.9 L1408.85,1219.9 L1409.62,1219.9 L1410.38,1219.9 L1411.15,1219.9 L1411.92,1219.8 L1412.69,1219.8 L1413.46,1219.8 L1414.23,1219.8 L1415.00,1219.8 L1415.77,1219.8 L1416.54,1219.8 L1417.31,1219.8 L1418.08,1219.8 L1418.85,1219.8 L1419.62,1219.8 L1420.38,1219.8 L1421.15,1219.8 L1421.92,1219.8 L1422.69,1219.8 L1423.46,1219.8 L1424.23,1219.8 L1425.00,1219.8 L1425.77,1219.8 L1426.54,1219.8 L1427.31,1219.7 L1428.08,1219.7 L1428.85,1219.7 L1429.62,1219.7 L1430.38,1219.7 L1431.15,1219.7 L1431.92,1219.7 L1432.69,1219.7 L1433.46,1219.7 L1434.23,1219.7 L1435.00,1219.7 L1435.77,1219.7 L1436.54,1219.7 L1437.31,1219.7 L1438.08,1219.7 L1438.85,1219.7 L1439.62,1219.7 L1440.38,1219.7 L1441.15,1219.7 L1441.92,1219.6 L1442.69,1219.6 L1443.46,1219.6 L1444.23,1219.6 L1445.00,1219.6 L1445.77,1219.6 L1446.54,1219.6 L1447.31,1219.6 L1448.08,1219.6 L1448.85,1219.6 L1449.62,1219.6 L1450.38,1219.6 L1451.15,1219.6 L1451.92,1219.6 L1452.69,1219.6 L1453.46,1219.6 L1454.23,1219.6 L1455.00,1219.5 L1455.77,1219.5 L1456.54,1219.5 L1457.31,1219.5 L1458.08,1219.5 L1458.85,1219.5 L1459.62,1219.5 L1460.38,1219.5 L1461.15,1219.5 L1461.92,1219.5 L1462.69,1219.5 L1463.46,1219.5 L1464.23,1219.5 L1465.00,1219.5 L1465.77,1219.5 L1466.54,1219.5 L1467.31,1219.5 L1468.08,1219.5 L1468.85,1219.4 L1469.62,1219.4 L1470.38,1219.4 L1471.15,1219.4 L1471.92,1219.4 L1472.69,1219.4 L1473.46,1219.4 L1474.23,1219.4 L1475.00,1219.4 L1475.77,1219.4 L1476.54,1219.4 L1477.31,1219.4 L1478.08,1219.4 L1478.85,1219.4 L1479.62,1219.4 L1480.38,1219.4 L1481.15,1219.4 L1481.92,1219.4 L1482.69,1219.4 L1483.46,1219.3 L1484.23,1219.3 L1485.00,1219.3 L1485.77,1219.3 L1486.54,1219.3 L1487.31,1219.3 L1488.08,1219.3 L1488.85,1219.3 L1489.62,1219.3 L1490.38,1219.3 L1491.15,1219.3 L1491.92,1219.3 L1492.69,1219.3 L1493.46,1219.3 L1494.23,1219.3 L1495.00,1219.3 L1495.77,1219.3 L1496.54,1219.3 L1497.31,1219.3 L1498.08,1219.3 L1498.85,1219.2 L1499.62,1219.2 L1500.38,1219.2 L1501.15,1219.2 L1501.92,1219.2 L1502.69,1219.2 L1503.46,1219.2 L1504.23,1219.2 L1505.00,1219.2 L1505.77,1219.2 L1506.54,1219.2 L1507.31,1219.2 L1508.08,1219.2 L1508.85,1219.2 L1509.62,1219.2 L1510.38,1219.2 L1511.15,1219.2 L1511.92,1219.2 L1512.69,1219.2 L1513.46,1219.2 L1514.23,1219.2 L1515.00,1219.2 L1515.77,1219.2 L1516.54,1219.2 L1517.31,1219.2 L1518.08,1219.2 L1518.85,1219.2 L1519.62,1219.1 L1520.38,1219.1 L1521.15,1219.1 L1521.92,1219.1 L1522.69,1219.1 L1523.46,1219.1 L1524.23,1219.1 L1525.00,1219.1 L1525.77,1219.1 L1526.54,1219.1 L1527.31,1219.1 L1528.08,1219.1 L1528.85,1219.1 L1529.62,1219.1 L1530.38,1219.1 L1531.15,1219.1 L1531.92,1219.1 L1532.69,1219.1 L1533.46,1219.1 L1534.23,1219.1 L1535.00,1219.1 L1535.77,1219.1 L1536.54,1219.1 L1537.31,1219.1 L1538.08,1219.1 L1538.85,1219.1 L1539.62,1219.1 L1540.38,1219.1 L1541.15,1219.1 L1541.92,1219.1 L1542.69,1219.1 L1543.46,1219.1 L1544.23,1219.1 L1545.00,1219.1 L1545.77,1219.1 L1546.54,1219.1 L1547.31,1219.1 L1548.08,1219.1 L1548.85,1219.1 L1549.62,1219.1 L1550.38,1219.1 L1551.15,1219.1 L1551.92,1219.1 L1552.69,1219.1 L1553.46,1219.1 L1554.23,1219.1 L1555.00,1219.1 L1555.77,1219.1 L1556.54,1219.1 L1557.31,1219.1 L1558.08,1219.1 L1558.85,1219.1 L1559.62,1219.1 L1560.38,1219.1 L1561.15,1219.1 L1561.92,1219.1 L1562.69,1219.1 L1563.46,1219.1 L1564.23,1219.1 L1565.00,1219.1 L1565.77,1219.1 L1566.54,1219.1 L1567.31,1219.1 L1568.08,1219.1 L1568.85,1219.1 L1569.62,1219.1 L1570.38,1219.1 L1571.15,1219.1 L1571.92,1219.1 L1572.69,1219.1 L1573.46,1219.1 L1574.23,1219.1 L1575.00,1219.1 L1575.77,1219.1 L1576.54,1219.2 L1577.31,1219.2 L1578.08,1219.2 L1578.85,1219.2 L1579.62,1219.2 L1580.38,1219.2 L1581.15,1219.2 L1581.92,1219.2 L1582.69,1219.2 L1583.46,1219.2 L1584.23,1219.2 L1585.00,1219.2 L1585.77,1219.2 L1586.54,1219.2 L1587.31,1219.2 L1588.08,1219.2 L1588.85,1219.2 L1589.62,1219.2 L1590.38,1219.2 L1591.15,1219.2 L1591.92,1219.2 L1592.69,1219.3 L1593.46,1219.3 L1594.23,1219.3 L1595.00,1219.3 L1595.77,1219.3 L1596.54,1219.3 L1597.31,1219.3 L1598.08,1219.3 L1598.85,1219.3 L1599.62,1219.3 L1600.38,1219.3 L1601.15,1219.3 L1601.92,1219.3 L1602.69,1219.4 L1603.46,1219.4 L1604.23,1219.4 L1605.00,1219.4 L1605.77,1219.4 L1606.54,1219.4 L1607.31,1219.4 L1608.08,1219.4 L1608.85,1219.4 L1609.62,1219.4 L1610.38,1219.4 L1611.15,1219.4 L1611.92,1219.5 L1612.69,1219.5 L1613.46,1219.5 L1614.23,1219.5 L1615.00,1219.5 L1615.77,1219.5 L1616.54,1219.5 L1617.31,1219.5 L1618.08,1219.5 L1618.85,1219.6 L1619.62,1219.6 L1620.38,1219.6 L1620.77,1219.6"/>
</g>
<g id="axes" fill="#000">
<rect x="285.5" y="54.1" width="8.0" height="1200.2"/>
<rect x="2107.3" y="54.1" width="8.0" height="1219.5"/>
<rect x="285.5" y="54.1" width="1829.8000000000002" height="6.2"/>
<rect x="285.5" y="1248.1000000000001" width="1821.8000000000002" height="6.2"/>
<rect x="259" y="92.00" width="30.5" height="6.2"/>
<rect x="259" y="470.00" width="30.5" height="6.2"/>
<rect x="259" y="850.50" width="30.5" height="6.2"/>
<rect x="259" y="1229.70" width="30.5" height="6.2"/>
<rect x="539.30" y="1251.2" width="8.0" height="23.40"/>
<rect x="931.30" y="1251.2" width="8.0" height="23.40"/>
<rect x="1323.30" y="1251.2" width="8.0" height="23.40"/>
<rect x="1715.20" y="1251.2" width="8.0" height="23.40"/>
</g>
<g id="ticklabels">
<text transform="translate(134.85,113.30) scale(1.2150,1)" font-size="69">0.6</text>
<text transform="translate(134.85,491.90) scale(1.2150,1)" font-size="69">0.4</text>
<text transform="translate(134.85,872.60) scale(1.2150,1)" font-size="69">0.2</text>
<text transform="translate(134.85,1250.80) scale(1.2150,1)" font-size="69">0.0</text>
<text transform="translate(480.14,1341.80) scale(1.2360,1)" font-size="69.4">400</text>
<text transform="translate(871.37,1341.80) scale(1.2360,1)" font-size="69.4">500</text>
<text transform="translate(1264.03,1341.80) scale(1.2360,1)" font-size="69.4">600</text>
<text transform="translate(1653.05,1341.80) scale(1.2360,1)" font-size="69.4">700</text>
<text transform="translate(2047.03,1341.80) scale(1.2360,1)" font-size="69.4">800</text>
</g>
<g id="titles">
<text transform="translate(916.23,1448.60) scale(1.2050,1)" font-size="64">Wavelength (nm)</text>
<text transform="translate(87.50,809.62) scale(1.2300,1) rotate(-90)" font-size="61.8">Absorbance</text>
</g>
<g id="legend">
<rect x="1322.9" y="67.5" width="778.0" height="243.5" fill="#fff" stroke="none"/>
<rect x="1321.25" y="66.2" width="3.3" height="246.1" fill="#000"/>
<rect x="2099.25" y="66.2" width="3.3" height="246.1" fill="#000"/>
<rect x="1321.25" y="66.2" width="781.3" height="2.6" fill="#000"/>
<rect x="1321.25" y="309.7" width="781.3" height="2.6" fill="#000"/>
<rect x="1329" y="93.95" width="126" height="8.3" fill="#4d4d4d"/>
<text transform="translate(1478.02,116.30) scale(1.2030,1)" font-size="49">MG</text>
<rect x="1329" y="154.15" width="126" height="8.3" fill="#ff3636"/>
<text transform="translate(1463.62,174.90) scale(1.2030,1)" font-size="49">MG+Fe(III)TCPP</text>
<rect x="1329" y="213.95" width="126" height="8.3" fill="#0068e1"/>
<text transform="translate(1463.62,234.10) scale(1.2030,1)" font-size="49">MG+PhIO</text>
<rect x="1329" y="272.25" width="126" height="8.3" fill="#00ad62"/>
<text transform="translate(1463.62,294.40) scale(1.2030,1)" font-size="49">MG+Fe(III)TCPP+PhIO</text>
</g>
</svg></body></html>
